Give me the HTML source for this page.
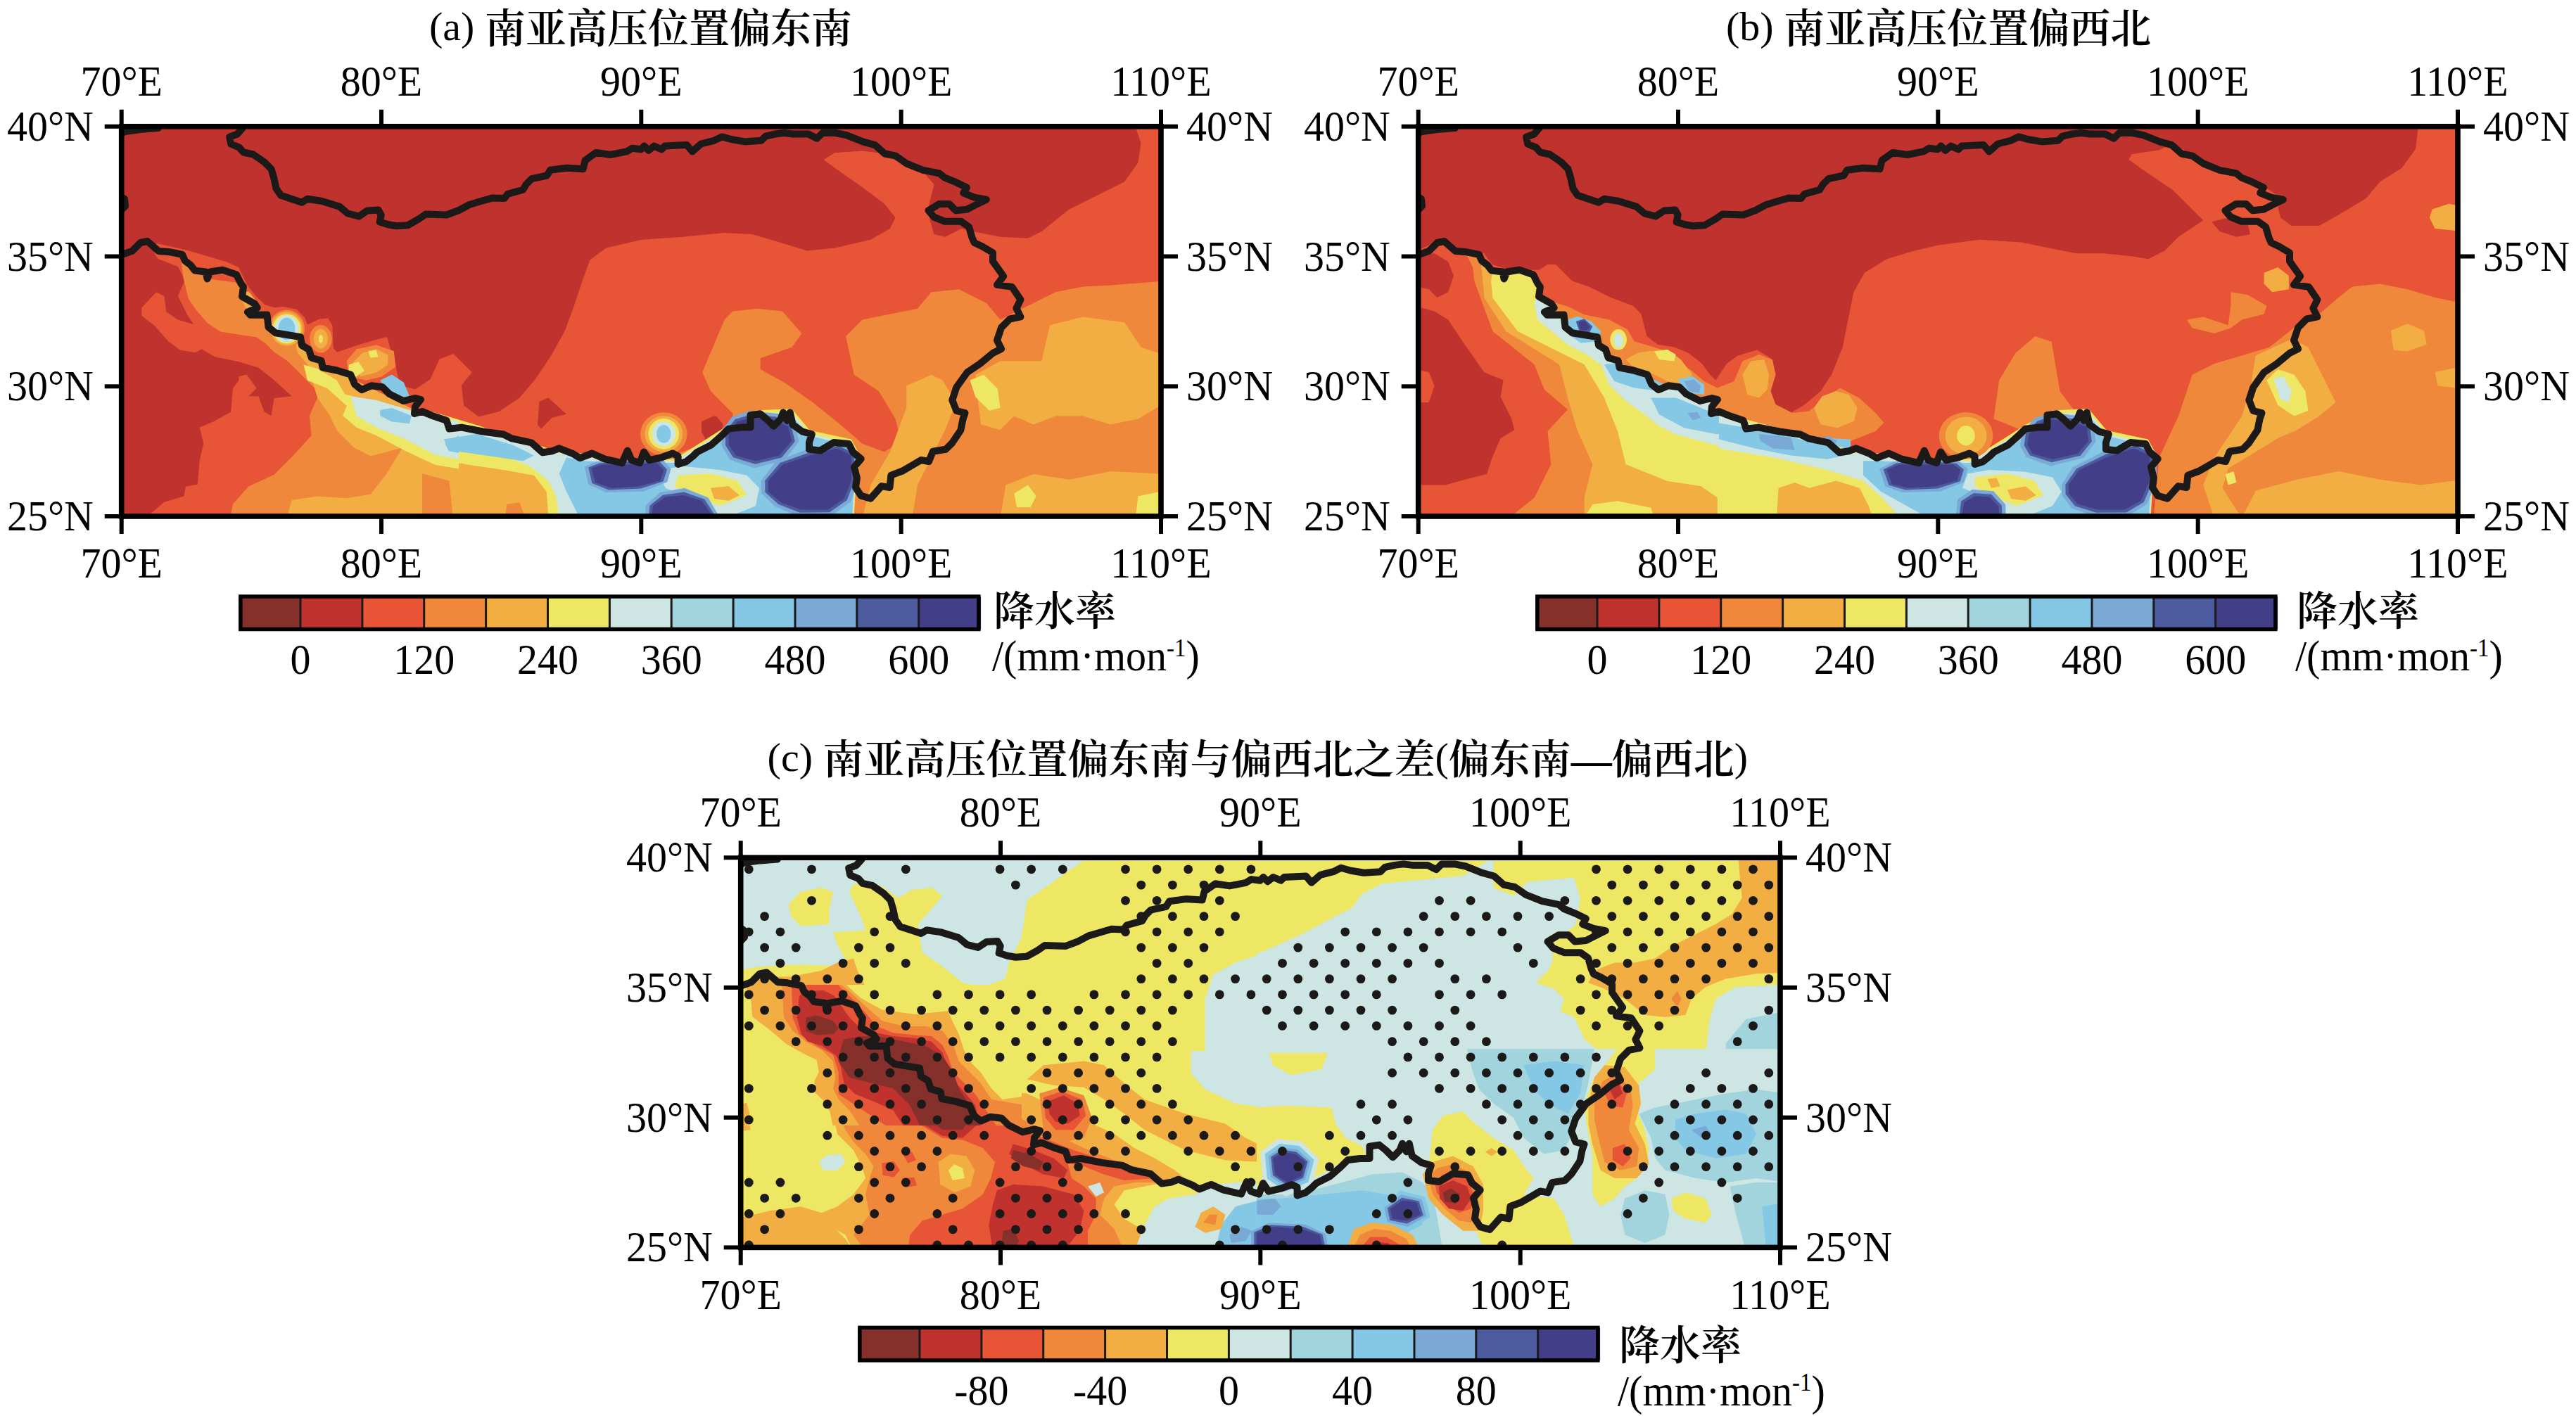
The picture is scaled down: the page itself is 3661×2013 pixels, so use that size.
<!DOCTYPE html>
<html><head><meta charset="utf-8"><style>
html,body{margin:0;padding:0;background:#fff;}
svg{display:block;}
text{font-family:'Liberation Serif','Noto Serif CJK SC',serif;font-size:58px;fill:#000;}
.cjk{font-weight:600;}
</style></head><body>
<svg width="3661" height="2013" viewBox="0 0 3661 2013">
<g transform="translate(0,0)">
<text x="610" y="60.5"><tspan dy="-4">(a) </tspan><tspan dy="4" class="cjk">南亚高压位置偏东南</tspan></text>
<clipPath id="clipa"><rect x="172.7" y="179.8" width="1477.3" height="554.2"/></clipPath>
<g clip-path="url(#clipa)">
<rect x="172.7" y="179.8" width="1477.3" height="554.2" fill="#c0322d"/>
<rect x="170" y="176" width="1484" height="562" fill="#e85436"/><polygon points="172.0,180.0 912.0,180.0 912.0,180.0 1613.7,180.0 1621.5,203.5 1617.6,231.0 1598.0,258.4 1558.8,278.0 1519.6,297.6 1480.4,329.0 1460.8,338.8 1421.6,336.8 1382.4,329.0 1366.7,325.0 1343.2,336.8 1327.5,332.9 1321.6,313.3 1319.7,293.7 1327.5,262.3 1304.0,234.9 1264.8,219.2 1225.6,214.5 1186.4,217.2 1170.7,227.0 1186.4,238.8 1225.6,266.2 1257.0,289.8 1272.6,309.4 1264.8,325.0 1237.4,340.7 1186.4,352.5 1147.2,356.4 1108.0,344.6 1068.8,332.9 1029.6,330.9 970.8,336.8 912.0,340.7 861.5,352.4 838.5,369.6 827.0,401.2 815.5,435.7 802.9,470.1 783.9,504.6 760.9,539.1 737.9,566.1 709.2,585.1 680.5,592.5 659.2,576.4 655.8,547.7 670.7,529.3 644.3,502.9 624.7,510.4 611.5,539.1 590.3,553.5 568.4,547.7 562.7,521.9 550.0,479.1 529.6,484.2 504.2,491.9 478.8,500.8 473.7,494.4 472.4,462.6 466.1,452.5 453.4,453.7 436.9,461.4 433.0,451.2 421.6,439.7 402.5,435.9 389.8,437.2 377.1,433.4 364.4,422.0 351.7,405.4 339.0,380.0 322.5,372.5 297.3,365.0 263.9,355.2 224.9,346.6 195.0,347.8 166.3,352.4 166.3,180.0" fill="#c0322d"/><polygon points="169.2,348.4 199.9,340.0 213.8,348.4 220.8,362.3 225.0,367.9 252.9,379.1 262.7,398.6 252.9,420.9 266.8,448.8 275.2,461.3 252.9,454.4 236.2,443.2 233.4,420.9 222.2,415.3 201.3,437.6 201.3,448.8 219.4,462.7 238.9,485.0 255.7,497.6 278.0,501.2 286.4,496.2 305.9,507.4 339.4,514.3 367.3,522.7 386.8,538.0 414.7,563.2 389.6,565.9 385.4,591.0 375.6,585.5 367.3,563.2 350.5,563.2 339.4,540.8 331.0,552.0 328.2,585.5 303.1,599.4 283.6,607.8 289.2,630.1 283.6,655.2 280.8,688.7 264.1,691.5 261.3,705.4 233.4,713.8 213.8,730.5 172.0,730.5" fill="#c0322d"/><polygon points="339.4,535.3 350.5,532.5 364.5,552.0 353.3,563.2 339.4,560.4" fill="#e85436"/><polygon points="255.7,356.7 259.0,361.8 276.9,384.6 294.7,396.3 341.9,402.5 365.6,437.6 381.5,465.2 418.0,479.2 447.0,512.7 488.6,532.5 543.8,560.1 607.1,591.9 652.1,600.0 652.1,730.5 328.2,730.5 331.0,716.6 353.3,691.5 389.6,674.7 417.5,646.8 442.6,618.9 439.8,591.0 453.5,560.1 447.0,551.7 434.2,538.9 421.7,526.1 408.8,513.5 389.9,500.7 377.0,488.1 364.2,479.2 338.8,475.6 313.1,471.4 294.2,458.8 279.1,441.0 267.7,424.5 260.7,395.8" fill="#ef883a"/><polygon points="1041.4,587.7 1010.0,556.3 998.2,528.9 1029.6,454.4 1041.4,442.6 1076.6,438.7 1111.9,442.6 1139.4,474.0 1125.6,493.6 1080.6,509.3 1080.6,525.0 1115.8,544.6 1155.0,572.0 1194.2,603.4 1225.6,630.8 1257.0,642.6 1280.5,626.9 1272.6,595.5 1249.1,556.3 1213.8,532.8 1202.1,477.9 1225.6,454.4 1264.8,446.6 1304.0,438.7 1323.6,415.2 1362.8,411.3 1402.0,430.9 1421.6,454.4 1460.8,434.8 1500.0,415.2 1539.2,407.4 1578.4,405.4 1656.8,399.5 1656.8,736.6 912.0,736.6 912.0,662.2 959.0,646.5 1029.6,619.0 1041.4,599.4" fill="#ef883a"/><polygon points="998.2,599.4 1017.8,591.6 1027.6,603.4 1021.8,623.0 1002.2,626.9" fill="#c0322d"/><polygon points="766.5,570.7 779.3,565.6 805.0,588.7 784.5,593.8 769.1,609.2 764.0,604.1" fill="#c0322d"/><polygon points="997.1,598.9 1015.1,591.2 1026.6,601.5 1020.2,624.6 1004.8,627.1 997.1,614.3" fill="#c0322d"/><polygon points="418.0,479.2 447.0,512.7 488.6,532.5 543.8,560.1 607.1,591.9 652.1,600.0 652.1,730.5 409.1,730.5 414.7,711.0 450.9,705.4 492.8,708.2 526.8,702.6 548.6,674.7 572.0,636.5 526.8,648.2 503.1,636.5 479.4,612.8 467.7,589.1 451.2,565.7 437.0,518.2 423.0,501.8" fill="#f2ae42"/><polygon points="339.4,418.1 353.3,413.9 367.3,432.1 364.5,446.0 350.5,440.4" fill="#f2ae42"/><polygon points="1386.3,532.8 1421.6,513.2 1480.4,513.2 1492.2,462.2 1539.2,450.5 1598.0,458.3 1621.5,493.6 1656.8,505.4 1656.8,572.0 1617.6,595.5 1578.4,603.4 1539.2,591.6 1500.0,591.6 1468.6,603.4 1441.2,591.6 1421.6,611.2 1394.2,603.4 1390.2,572.0" fill="#f2ae42"/><polygon points="1296.2,736.6 1304.0,689.6 1323.6,650.4 1343.2,611.2 1358.9,572.0 1339.3,540.6 1323.6,532.8 1288.3,548.5 1288.3,579.8 1264.8,642.6 1237.4,689.6 1225.6,736.6" fill="#f2ae42"/><polygon points="1421.6,736.6 1429.4,689.6 1468.6,673.9 1519.6,681.8 1578.4,670.0 1656.8,673.9 1656.8,736.6" fill="#f2ae42"/><polygon points="600.0,642.5 794.7,642.5 799.8,734.7 600.0,734.7" fill="#f2ae42"/><polygon points="600.0,673.2 638.4,683.5 643.6,734.7 600.0,734.7" fill="#ef883a"/><polygon points="720.4,716.8 738.4,714.2 746.0,734.7 717.9,734.7" fill="#ef883a"/><polygon points="431.4,518.5 450.9,524.1 478.8,540.8 490.0,560.4 534.6,571.5 576.5,582.7 618.3,599.4 652.1,607.8 652.1,666.4 618.3,660.8 576.5,641.3 534.6,618.9 506.7,607.8 487.2,591.0 492.8,577.1 464.9,552.0 437.0,540.8" fill="#eee764"/><polygon points="600.0,581.0 676.9,604.1 779.3,637.4 881.8,652.7 958.7,652.7 1035.6,604.1 1074.0,583.6 1125.2,581.0 1150.9,611.7 1209.8,624.6 1225.2,652.7 1217.5,673.2 1213.6,734.7 779.3,734.7 776.8,698.9 758.9,675.8 715.3,668.1 664.1,660.4 625.6,652.7 600.0,650.2" fill="#eee764"/><polygon points="1378.5,540.6 1398.1,532.8 1417.7,552.4 1421.6,579.8 1405.9,583.8 1386.3,564.2" fill="#eee764"/><polygon points="1441.2,701.4 1460.8,689.6 1472.6,705.3 1464.7,721.0 1445.1,721.0" fill="#eee764"/><polygon points="1617.6,705.3 1656.8,697.4 1656.8,736.6 1613.7,736.6" fill="#eee764"/><polygon points="498.4,563.2 534.6,568.7 590.4,585.5 652.1,599.4 652.1,652.4 618.3,646.8 576.5,624.5 534.6,607.8 506.7,591.0" fill="#cde6e4"/><polygon points="600.0,591.2 676.9,609.2 779.3,642.5 881.8,655.3 958.7,655.3 1035.6,609.2 1074.0,588.7 1125.2,586.1 1150.9,616.9 1209.8,629.7 1222.6,655.3 1216.2,673.2 1212.3,734.7 794.7,734.7 789.6,704.0 779.3,683.5 753.7,663.0 715.3,647.6 651.2,634.8 600.0,627.1" fill="#cde6e4"/><polygon points="540.2,582.7 556.9,579.9 584.8,591.0 582.0,602.2 556.9,599.4 540.2,591.0" fill="#84c8e6"/><polygon points="632.3,630.1 652.1,618.9 652.1,644.0 637.8,641.3" fill="#84c8e6"/><polygon points="540.2,540.8 556.9,532.5 573.7,543.6 582.0,563.2 568.1,565.9 548.6,552.0" fill="#84c8e6"/><polygon points="630.7,624.6 676.9,616.9 728.1,632.2 758.9,647.6 743.5,655.3 689.7,647.6 638.4,639.9" fill="#84c8e6"/><polygon points="805.0,650.2 830.6,655.3 881.8,657.9 958.7,657.9 984.3,647.6 1035.6,614.3 1061.2,593.8 1125.2,591.2 1150.9,619.4 1202.1,632.2 1220.0,652.7 1214.9,673.2 1211.1,734.7 822.9,734.7 805.0,698.9 794.7,673.2" fill="#84c8e6"/><polygon points="933.1,668.1 971.5,663.0 1022.8,668.1 1061.2,675.8 1079.1,693.7 1074.0,719.3 1035.6,734.7 997.1,734.7 971.5,704.0 945.9,693.7" fill="#cde6e4"/><polygon points="963.8,675.8 1009.9,673.2 1048.4,683.5 1061.2,704.0 1022.8,719.3 984.3,704.0 958.7,691.2" fill="#eee764"/><polygon points="1009.9,693.7 1035.6,691.2 1050.9,704.0 1035.6,711.7 1015.1,709.1" fill="#f2ae42"/><polygon points="830.8,663.5 846.8,656.4 896.3,650.3 942.5,653.8 953.5,666.6 948.3,685.2 914.7,698.4 860.9,700.0 836.0,688.3" fill="#7aa9d6"/><polygon points="1025.6,612.0 1040.5,592.4 1065.6,584.1 1105.6,588.1 1129.5,602.5 1135.5,627.7 1115.2,654.1 1072.3,665.4 1037.4,653.4 1025.5,634.0" fill="#7aa9d6"/><polygon points="1081.7,683.0 1103.9,654.7 1150.9,637.4 1195.6,629.3 1218.4,642.0 1220.0,683.0 1208.8,713.5 1182.2,733.0 1134.8,734.2 1101.4,720.0 1081.9,701.0" fill="#7aa9d6"/><polygon points="917.8,718.1 937.8,700.2 972.8,693.8 1006.5,707.4 1020.1,730.9 1019.1,749.6 916.1,749.3" fill="#7aa9d6"/><polygon points="836.3,664.6 852.0,658.6 895.4,655.9 937.3,656.0 947.9,667.4 942.8,684.2 910.7,694.4 865.4,696.6 841.5,687.0" fill="#4c5a9e"/><polygon points="1031.1,613.2 1044.8,596.0 1067.4,589.4 1102.3,592.6 1124.3,604.8 1129.8,627.4 1110.9,650.5 1073.2,659.8 1042.0,650.2 1031.0,633.0" fill="#4c5a9e"/><polygon points="1087.3,683.3 1108.6,657.9 1150.9,643.0 1192.1,633.7 1213.7,645.1 1214.4,683.3 1203.7,711.1 1179.0,728.3 1136.6,728.8 1106.1,716.8 1087.4,699.8" fill="#4c5a9e"/><polygon points="923.4,718.8 942.2,703.7 972.1,699.4 1001.3,709.8 1014.5,730.2 1014.1,747.0 921.2,746.9" fill="#4c5a9e"/><polygon points="840.8,665.5 856.2,660.4 894.6,660.4 933.1,657.9 943.3,668.1 938.2,683.5 907.5,691.2 869.0,693.7 846.0,686.0" fill="#423f88"/><polygon points="1035.6,614.3 1048.4,598.9 1068.9,593.8 1099.6,596.4 1120.1,606.6 1125.2,627.1 1107.3,647.6 1074.0,655.3 1045.8,647.6 1035.6,632.2" fill="#423f88"/><polygon points="1091.9,683.5 1112.4,660.4 1150.9,647.6 1189.3,637.4 1209.8,647.6 1209.8,683.5 1199.5,709.1 1176.5,724.5 1138.0,724.5 1109.9,714.2 1091.9,698.9" fill="#423f88"/><polygon points="928.0,719.3 945.9,706.5 971.5,704.0 997.1,711.7 1009.9,729.6 1009.9,745.0 925.4,745.0" fill="#423f88"/><ellipse cx="943.3" cy="616.9" rx="33.3" ry="30.7" fill="#ef883a"/><ellipse cx="943.3" cy="616.9" rx="26.9" ry="25.6" fill="#f2ae42"/><ellipse cx="943.3" cy="616.9" rx="21.8" ry="21.8" fill="#eee764"/><ellipse cx="943.3" cy="616.9" rx="16.7" ry="17.4" fill="#cde6e4"/><ellipse cx="943.3" cy="616.9" rx="10.2" ry="12.8" fill="#84c8e6"/><ellipse cx="407.5" cy="467.5" rx="25.5" ry="26.7" fill="#ef883a"/><ellipse cx="407.5" cy="467.5" rx="22.9" ry="24.2" fill="#f2ae42"/><ellipse cx="407.5" cy="467.5" rx="20.3" ry="21.0" fill="#eee764"/><ellipse cx="407.5" cy="467.5" rx="17.0" ry="19.0" fill="#cde6e4"/><ellipse cx="407.5" cy="467.5" rx="12.0" ry="16.0" fill="#84c8e6"/><ellipse cx="455.9" cy="481.7" rx="15.9" ry="19.7" fill="#ef883a"/><ellipse cx="455.9" cy="481.7" rx="10.0" ry="14.0" fill="#f2ae42"/><ellipse cx="455.9" cy="481.7" rx="3.0" ry="5.7" fill="#eee764"/><polygon points="492.8,512.9 506.7,496.2 534.6,490.6 559.7,499.0 562.5,521.3 543.0,535.3 520.7,540.8 495.6,535.3" fill="#ef883a"/><polygon points="501.1,515.7 515.1,501.8 534.6,496.2 551.4,504.6 551.4,518.5 534.6,529.7 512.3,535.3" fill="#f2ae42"/><polygon points="523.5,499.0 534.6,497.6 537.4,507.4 526.3,508.8" fill="#eee764"/><polygon points="495.6,518.5 509.5,514.3 517.9,526.9 506.7,535.3 495.6,532.5" fill="#eee764"/>
<g fill="none" stroke="#1c1a19" stroke-width="10" stroke-linejoin="round" stroke-linecap="round"><polyline points="168.0,362.0 176.9,360.8 187.8,356.9 199.7,345.0 209.5,343.0 225.4,356.9 239.2,357.9 259.0,361.8 262.9,370.7 270.8,376.7 276.8,384.6 292.6,386.5 294.6,396.4 298.5,386.5 316.3,383.6 336.1,390.5 342.0,402.4 345.9,407.9 344.0,421.7 361.7,431.6 365.7,437.6 351.9,443.5 355.8,447.8 379.5,447.5 381.5,465.2 391.4,473.2 427.0,479.1 429.0,490.9 438.9,496.9 442.8,508.7 456.6,512.7 458.6,522.6 478.4,526.5 498.2,532.5 504.1,546.3 514.0,554.2 527.8,548.3 543.6,550.3 553.5,560.1 573.3,570.0 590.0,566.0 598.0,568.0 590.0,578.0 589.0,588.0 600.0,585.0 616.8,591.8 634.6,597.7 638.5,609.6 656.3,607.6 686.0,613.5 715.6,617.5 727.5,623.4 755.2,629.3 771.0,643.2 784.8,641.2 794.7,637.3 814.5,645.2 824.4,651.1 841.4,644.5 858.8,652.3 884.0,658.1 891.8,640.6 897.6,654.2 909.3,658.1 915.1,642.6 922.9,654.2 940.3,650.3 955.9,644.5 963.6,648.4 963.6,660.0 975.3,656.2 985.0,648.4 990.8,642.6 1010.2,632.9 1025.7,619.3 1035.5,609.6 1052.9,607.6 1066.5,607.6 1066.5,590.2 1080.1,588.2 1089.8,596.0 1099.5,605.7 1109.2,596.0 1113.1,586.3 1118.9,597.9 1122.8,586.3 1126.7,603.8 1140.3,613.5 1153.8,617.3 1150.0,629.0 1150.0,638.7 1165.5,640.6 1184.9,629.0 1206.3,630.9 1212.1,642.6 1223.7,652.3 1214.0,663.9 1217.9,679.5 1216.0,693.0 1223.7,704.7 1237.3,708.6 1252.8,691.1 1264.5,693.0 1266.4,675.6 1282.0,669.8 1295.5,662.0 1309.0,654.0 1320.0,656.0 1325.9,641.7 1344.1,638.7 1353.3,629.6 1365.4,611.4 1368.4,596.2 1371.5,587.1 1359.3,584.0 1353.3,568.9 1359.3,550.6 1374.5,529.4 1392.7,517.2 1411.0,502.0 1423.1,496.0 1417.0,483.8 1423.1,465.6 1435.2,453.5 1450.4,450.4 1444.4,438.3 1450.4,426.1 1438.3,407.9 1417.0,404.9 1426.1,392.7 1411.0,371.5 1411.0,359.3 1395.8,350.2 1384.7,345.0 1381.6,338.0 1377.0,322.5 1366.1,314.8 1342.8,314.8 1327.3,308.5 1319.5,299.2 1335.0,289.9 1349.0,289.9 1358.3,299.2 1373.9,297.7 1389.4,289.9 1401.8,283.7 1384.7,280.6 1369.2,274.4 1373.9,266.6 1358.3,258.9 1342.8,252.6 1335.0,246.4 1311.7,241.8 1288.4,232.5 1272.9,221.6 1257.4,218.5 1243.4,206.1 1226.3,201.4 1203.0,192.1 1187.5,189.0 1168.9,189.0 1161.1,196.7 1148.7,190.5 1127.0,190.5 1114.5,189.0 1102.1,190.5 1088.1,193.6 1081.9,199.8 1058.6,201.4 1040.0,198.3 1025.8,194.4 1014.9,199.8 996.3,204.5 983.9,215.4 976.1,206.1 945.0,207.6 940.4,212.3 929.5,207.6 921.7,213.8 915.5,207.6 910.9,212.3 898.4,210.7 890.7,215.4 867.4,220.0 847.2,216.9 831.7,227.8 828.6,240.2 805.3,238.7 782.0,241.8 777.3,249.5 755.6,254.2 747.8,262.0 743.2,269.7 721.4,275.9 716.8,282.1 699.7,281.4 681.1,286.8 667.0,291.0 652.0,299.0 634.6,305.5 605.0,304.5 595.1,311.4 579.3,320.3 563.4,321.3 551.6,319.3 539.7,315.4 541.7,305.5 537.7,298.6 521.9,299.6 510.0,307.5 494.2,303.5 482.4,293.6 456.7,285.7 436.9,282.8 429.0,287.7 417.1,283.7 399.3,277.8 392.4,267.9 389.5,254.0 385.5,240.2 375.6,230.4 359.8,219.5 346.0,216.5 340.0,209.6 328.2,204.7 326.2,194.8 337.0,190.8 344.0,183.0 350.0,174.0"/><polyline points="168.0,192.0 178.0,187.0 200.0,184.0 225.0,182.0"/><polyline points="168.0,277.0 177.0,283.0 178.0,293.0 168.0,303.0"/></g>
</g>
<g stroke="#000" stroke-width="6"><line x1="172.7" y1="155.8" x2="172.7" y2="179.8"/><line x1="172.7" y1="734.0" x2="172.7" y2="759.0"/><line x1="542.0" y1="155.8" x2="542.0" y2="179.8"/><line x1="542.0" y1="734.0" x2="542.0" y2="759.0"/><line x1="911.3" y1="155.8" x2="911.3" y2="179.8"/><line x1="911.3" y1="734.0" x2="911.3" y2="759.0"/><line x1="1280.7" y1="155.8" x2="1280.7" y2="179.8"/><line x1="1280.7" y1="734.0" x2="1280.7" y2="759.0"/><line x1="1650.0" y1="155.8" x2="1650.0" y2="179.8"/><line x1="1650.0" y1="734.0" x2="1650.0" y2="759.0"/><line x1="148.7" y1="179.8" x2="172.7" y2="179.8"/><line x1="1650.0" y1="179.8" x2="1674.0" y2="179.8"/><line x1="148.7" y1="364.5" x2="172.7" y2="364.5"/><line x1="1650.0" y1="364.5" x2="1674.0" y2="364.5"/><line x1="148.7" y1="549.3" x2="172.7" y2="549.3"/><line x1="1650.0" y1="549.3" x2="1674.0" y2="549.3"/><line x1="148.7" y1="734.0" x2="172.7" y2="734.0"/><line x1="1650.0" y1="734.0" x2="1674.0" y2="734.0"/></g>
<rect x="172.7" y="179.8" width="1477.3" height="554.2" fill="none" stroke="#000" stroke-width="7.6"/>
<g><text transform="translate(172.7,135.6) scale(1,1.06)" text-anchor="middle">70°E</text><text transform="translate(172.7,821.3) scale(1,1.06)" text-anchor="middle">70°E</text><text transform="translate(542.0,135.6) scale(1,1.06)" text-anchor="middle">80°E</text><text transform="translate(542.0,821.3) scale(1,1.06)" text-anchor="middle">80°E</text><text transform="translate(911.3,135.6) scale(1,1.06)" text-anchor="middle">90°E</text><text transform="translate(911.3,821.3) scale(1,1.06)" text-anchor="middle">90°E</text><text transform="translate(1280.7,135.6) scale(1,1.06)" text-anchor="middle">100°E</text><text transform="translate(1280.7,821.3) scale(1,1.06)" text-anchor="middle">100°E</text><text transform="translate(1650.0,135.6) scale(1,1.06)" text-anchor="middle">110°E</text><text transform="translate(1650.0,821.3) scale(1,1.06)" text-anchor="middle">110°E</text><text transform="translate(133.0,199.8) scale(1,1.06)" text-anchor="end">40°N</text><text transform="translate(1686.0,199.8) scale(1,1.06)" text-anchor="start">40°N</text><text transform="translate(133.0,384.5) scale(1,1.06)" text-anchor="end">35°N</text><text transform="translate(1686.0,384.5) scale(1,1.06)" text-anchor="start">35°N</text><text transform="translate(133.0,569.3) scale(1,1.06)" text-anchor="end">30°N</text><text transform="translate(1686.0,569.3) scale(1,1.06)" text-anchor="start">30°N</text><text transform="translate(133.0,754.0) scale(1,1.06)" text-anchor="end">25°N</text><text transform="translate(1686.0,754.0) scale(1,1.06)" text-anchor="start">25°N</text></g>
<rect x="339.1" y="848.0" width="88.4" height="46.5" fill="#86302b"/>
<rect x="427.0" y="848.0" width="88.4" height="46.5" fill="#c0322d"/>
<rect x="514.9" y="848.0" width="88.4" height="46.5" fill="#e85436"/>
<rect x="602.7" y="848.0" width="88.4" height="46.5" fill="#ef883a"/>
<rect x="690.6" y="848.0" width="88.4" height="46.5" fill="#f2ae42"/>
<rect x="778.5" y="848.0" width="88.4" height="46.5" fill="#eee764"/>
<rect x="866.4" y="848.0" width="88.4" height="46.5" fill="#cde6e4"/>
<rect x="954.2" y="848.0" width="88.4" height="46.5" fill="#a1d4dd"/>
<rect x="1042.1" y="848.0" width="88.4" height="46.5" fill="#84c8e6"/>
<rect x="1130.0" y="848.0" width="88.4" height="46.5" fill="#7aa9d6"/>
<rect x="1217.8" y="848.0" width="88.4" height="46.5" fill="#4c5a9e"/>
<rect x="1305.7" y="848.0" width="88.4" height="46.5" fill="#423f88"/>
<line x1="427.0" y1="848.0" x2="427.0" y2="894.5" stroke="#1a1a1a" stroke-width="3"/>
<line x1="514.9" y1="848.0" x2="514.9" y2="894.5" stroke="#1a1a1a" stroke-width="3"/>
<line x1="602.7" y1="848.0" x2="602.7" y2="894.5" stroke="#1a1a1a" stroke-width="3"/>
<line x1="690.6" y1="848.0" x2="690.6" y2="894.5" stroke="#1a1a1a" stroke-width="3"/>
<line x1="778.5" y1="848.0" x2="778.5" y2="894.5" stroke="#1a1a1a" stroke-width="3"/>
<line x1="866.4" y1="848.0" x2="866.4" y2="894.5" stroke="#1a1a1a" stroke-width="3"/>
<line x1="954.2" y1="848.0" x2="954.2" y2="894.5" stroke="#1a1a1a" stroke-width="3"/>
<line x1="1042.1" y1="848.0" x2="1042.1" y2="894.5" stroke="#1a1a1a" stroke-width="3"/>
<line x1="1130.0" y1="848.0" x2="1130.0" y2="894.5" stroke="#1a1a1a" stroke-width="3"/>
<line x1="1217.8" y1="848.0" x2="1217.8" y2="894.5" stroke="#1a1a1a" stroke-width="3"/>
<line x1="1305.7" y1="848.0" x2="1305.7" y2="894.5" stroke="#1a1a1a" stroke-width="3"/>
<rect x="341.85" y="848.0" width="1049.0" height="46.5" fill="none" stroke="#000" stroke-width="5.5"/>
<text transform="translate(427.0,957.6) scale(1,1.06)" text-anchor="middle">0</text>
<text transform="translate(602.7,957.6) scale(1,1.06)" text-anchor="middle">120</text>
<text transform="translate(778.5,957.6) scale(1,1.06)" text-anchor="middle">240</text>
<text transform="translate(954.2,957.6) scale(1,1.06)" text-anchor="middle">360</text>
<text transform="translate(1130.0,957.6) scale(1,1.06)" text-anchor="middle">480</text>
<text transform="translate(1305.7,957.6) scale(1,1.06)" text-anchor="middle">600</text>
<text x="1412" y="889" class="cjk">降水率</text>
<text transform="translate(1410.0,953.2) scale(1,1.06)" text-anchor="start">/(mm·mon<tspan font-size="33" dy="-19">-1</tspan><tspan dy="19">)</tspan></text>
</g>
<g transform="translate(1843,0)">
<text x="610" y="60.5"><tspan dy="-4">(b) </tspan><tspan dy="4" class="cjk">南亚高压位置偏西北</tspan></text>
<clipPath id="clipb"><rect x="172.7" y="179.8" width="1477.3" height="554.2"/></clipPath>
<g clip-path="url(#clipb)">
<rect x="172.7" y="179.8" width="1477.3" height="554.2" fill="#c0322d"/>
<rect x="170" y="176" width="1484" height="562" fill="#e85436"/><polygon points="168.1,176.1 912.1,176.1 912.0,176.1 1594.1,176.1 1590.2,211.4 1570.6,238.8 1539.2,258.4 1519.6,281.9 1480.4,305.4 1453.0,321.1 1413.8,321.1 1398.1,309.4 1394.2,293.7 1405.9,285.1 1382.4,270.2 1343.2,246.6 1284.4,227.0 1245.2,204.3 1225.6,213.3 1186.4,219.2 1182.5,227.0 1209.9,246.6 1245.2,270.2 1272.6,297.6 1288.3,313.3 1276.6,321.1 1253.0,336.8 1233.4,356.4 1209.9,368.2 1186.4,364.2 1147.2,360.3 1108.0,360.3 1068.8,352.5 1029.6,344.6 970.8,340.7 912.0,348.6 877.6,356.4 838.4,368.2 807.0,387.8 791.4,415.2 783.5,454.4 775.7,493.6 760.0,532.8 744.3,556.3 720.8,575.9 693.4,591.6 677.7,587.7 665.9,556.3 673.8,532.8 673.8,509.3 654.2,497.5 626.7,505.4 611.0,517.1 595.4,540.6 587.5,532.8 575.8,517.1 556.2,501.4 536.6,493.6 513.0,489.7 497.4,477.9 489.5,446.6 477.8,434.8 446.4,423.0 415.0,407.4 391.5,399.5 368.0,376.0 356.2,376.0 344.5,383.8 301.4,383.8 277.8,376.0 266.1,360.3 230.8,356.4 211.2,344.6 187.7,348.6 168.1,358.4" fill="#c0322d"/><polygon points="1300.1,315.2 1323.6,309.4 1351.0,317.2 1355.0,332.9 1335.4,336.8 1311.8,329.0" fill="#c0322d"/><polygon points="168.1,364.2 195.5,360.3 215.1,372.1 223.0,391.7 215.1,415.2 199.4,423.0 187.7,411.3 168.1,407.4" fill="#c0322d"/><polygon points="168.1,434.8 195.5,442.6 215.1,454.4 238.6,489.7 266.1,528.9 293.5,540.6 289.6,564.2 305.3,595.5 309.2,611.2 289.6,623.0 277.8,650.4 270.0,673.9 238.6,681.8 211.2,689.6 191.6,689.6 168.1,689.6" fill="#c0322d"/><polygon points="168.1,525.0 187.7,528.9 195.5,548.5 187.7,572.0 168.1,572.0" fill="#e85436"/><polygon points="361.3,428.4 384.9,435.5 408.6,447.3 444.1,454.4 470.1,468.6 479.5,485.2 503.2,492.3 526.9,499.4 541.1,513.6 562.3,527.8 578.9,541.9 597.8,551.4 621.5,541.9 633.3,513.6 657.0,504.1 675.9,511.2 680.6,532.5 673.5,556.1 680.6,575.1 704.3,586.9 727.9,584.5 751.6,565.6 772.0,551.4 798.9,565.6 822.6,586.9 834.4,601.1 822.6,612.9 787.1,627.1 716.1,627.1 645.1,612.9 621.5,601.1 597.8,579.8 574.2,579.8 550.5,570.3 515.0,563.2 498.5,541.9 479.5,536.0 455.9,523.0 439.3,506.5 427.5,489.9 392.0,480.4 380.2,456.8 361.3,447.3" fill="#ef883a"/><polygon points="498.5,499.4 526.9,497.0 545.8,511.2 562.3,532.5 550.5,546.7 526.9,541.9 507.9,532.5 479.5,523.0 467.7,511.2 484.3,501.7" fill="#f2ae42"/><polygon points="633.3,532.5 645.1,513.6 664.1,511.2 671.2,532.5 668.8,553.8 657.0,565.6 640.4,560.9" fill="#f2ae42"/><polygon points="735.0,579.8 746.9,563.2 765.8,556.1 784.7,560.9 796.6,579.8 791.8,598.7 768.2,608.2 744.5,603.5" fill="#f2ae42"/><polygon points="507.9,499.4 526.9,497.0 538.7,504.1 536.3,513.6 515.0,511.2" fill="#eee764"/><ellipse cx="457.1" cy="482.8" rx="16.6" ry="17.7" fill="#ef883a"/><ellipse cx="457.1" cy="482.8" rx="11.8" ry="14.7" fill="#eee764"/><ellipse cx="457.1" cy="484.0" rx="6.6" ry="10.6" fill="#cde6e4"/><polygon points="239.2,357.9 259.0,361.8 262.9,370.7 270.8,376.7 276.8,384.6 292.6,386.5 294.6,396.4 298.5,386.5 316.3,383.6 336.1,390.5 342.0,402.4 345.9,407.9 344.0,421.7 361.7,431.6 365.7,437.6 351.9,443.5 355.8,447.8 379.5,447.5 381.5,465.2 391.4,473.2 427.0,479.1 429.0,490.9 438.9,496.9 442.8,508.7 456.6,512.7 458.6,522.6 478.4,526.5 498.2,532.5 504.1,546.3 514.0,554.2 527.8,548.3 543.6,550.3 553.5,560.1 573.3,570.0 590.0,566.0 598.0,568.0 590.0,578.0 589.0,588.0 600.0,585.0 616.8,591.8 634.6,597.7 638.5,609.6 656.3,607.6 686.0,613.5 715.6,617.5 727.5,623.4 755.2,629.3 771.0,643.2 784.8,641.2 794.7,637.3 814.5,645.2 824.4,651.1 841.4,644.5 858.8,652.3 884.0,658.1 891.8,640.6 897.6,654.2 909.3,658.1 915.1,642.6 922.9,654.2 940.3,650.3 955.9,644.5 963.6,648.4 963.6,660.0 975.3,656.2 985.0,648.4 990.8,642.6 1010.2,632.9 1012.0,740.0 731.0,740.0 302.1,735.9 337.6,707.5 361.3,660.2 356.5,612.9 384.9,582.2 351.8,553.8 337.6,518.3 278.5,471.0 252.4,400.0 250.0,380.0" fill="#ef883a"/><polygon points="262.9,370.7 270.8,376.7 276.8,384.6 292.6,386.5 294.6,396.4 298.5,386.5 316.3,383.6 336.1,390.5 342.0,402.4 345.9,407.9 344.0,421.7 361.7,431.6 365.7,437.6 351.9,443.5 355.8,447.8 379.5,447.5 381.5,465.2 391.4,473.2 427.0,479.1 429.0,490.9 438.9,496.9 442.8,508.7 456.6,512.7 458.6,522.6 478.4,526.5 498.2,532.5 504.1,546.3 514.0,554.2 527.8,548.3 543.6,550.3 553.5,560.1 573.3,570.0 590.0,566.0 598.0,568.0 590.0,578.0 589.0,588.0 600.0,585.0 616.8,591.8 634.6,597.7 638.5,609.6 656.3,607.6 686.0,613.5 715.6,617.5 727.5,623.4 755.2,629.3 771.0,643.2 784.8,641.2 794.7,637.3 814.5,645.2 824.4,651.1 841.4,644.5 858.8,652.3 884.0,658.1 891.8,640.6 897.6,654.2 909.3,658.1 915.1,642.6 922.9,654.2 940.3,650.3 955.9,644.5 963.6,648.4 963.6,660.0 975.3,656.2 985.0,648.4 990.8,642.6 1010.2,632.9 1012.0,740.0 731.0,740.0 408.6,735.9 408.6,707.5 420.4,660.2 399.1,612.9 384.9,565.6 373.1,518.3 297.4,471.0 266.6,423.7 264.3,400.0 262.0,375.0" fill="#f2ae42"/><polygon points="276.8,384.6 292.6,386.5 294.6,396.4 298.5,386.5 316.3,383.6 336.1,390.5 342.0,402.4 345.9,407.9 344.0,421.7 361.7,431.6 365.7,437.6 351.9,443.5 355.8,447.8 379.5,447.5 381.5,465.2 391.4,473.2 427.0,479.1 429.0,490.9 438.9,496.9 442.8,508.7 456.6,512.7 458.6,522.6 478.4,526.5 498.2,532.5 504.1,546.3 514.0,554.2 527.8,548.3 543.6,550.3 553.5,560.1 573.3,570.0 590.0,566.0 598.0,568.0 590.0,578.0 589.0,588.0 600.0,585.0 616.8,591.8 634.6,597.7 638.5,609.6 656.3,607.6 686.0,613.5 715.6,617.5 727.5,623.4 755.2,629.3 771.0,643.2 784.8,641.2 794.7,637.3 814.5,645.2 824.4,651.1 841.4,644.5 858.8,652.3 884.0,658.1 891.8,640.6 897.6,654.2 909.3,658.1 915.1,642.6 922.9,654.2 940.3,650.3 955.9,644.5 963.6,648.4 963.6,660.0 975.3,656.2 985.0,648.4 990.8,642.6 1010.2,632.9 1012.0,740.0 731.0,740.0 597.8,735.9 597.8,707.5 574.2,691.0 526.9,683.9 467.7,660.2 455.9,612.9 437.0,565.6 408.6,518.3 313.9,471.0 278.5,423.7 276.1,400.0 278.0,386.0" fill="#eee764"/><polygon points="408.6,735.9 420.4,717.0 455.9,712.3 503.2,721.7 507.9,735.9" fill="#eee764"/><polygon points="680.6,735.9 687.7,691.0 716.1,683.9 772.0,679.2 787.1,681.5 787.1,735.9" fill="#f2ae42"/><polygon points="345.9,407.9 344.0,421.7 361.7,431.6 365.7,437.6 351.9,443.5 355.8,447.8 379.5,447.5 381.5,465.2 391.4,473.2 427.0,479.1 429.0,490.9 438.9,496.9 442.8,508.7 456.6,512.7 458.6,522.6 478.4,526.5 498.2,532.5 504.1,546.3 514.0,554.2 527.8,548.3 543.6,550.3 553.5,560.1 573.3,570.0 590.0,566.0 598.0,568.0 590.0,578.0 589.0,588.0 600.0,585.0 616.8,591.8 634.6,597.7 638.5,609.6 656.3,607.6 686.0,613.5 715.6,617.5 727.5,623.4 727.5,650.0 772.0,662.6 739.8,665.0 692.5,660.2 645.1,650.8 609.7,636.6 574.2,627.1 538.7,617.6 515.0,605.8 491.4,586.9 467.7,570.3 444.1,546.7 432.2,518.3 408.6,501.7 384.9,489.9 342.3,454.4 337.6,430.8" fill="#cde6e4"/><polygon points="384.9,454.4 399.1,449.7 418.0,456.8 432.2,471.0 427.5,485.2 403.8,487.5 389.6,478.1" fill="#84c8e6"/><polygon points="396.7,456.8 408.6,453.2 420.4,463.9 415.7,473.3 401.5,471.0" fill="#4c5a9e"/><polygon points="400.3,458.0 408.6,455.6 416.9,465.1 412.1,469.8 402.7,468.6" fill="#423f88"/><polygon points="437.0,518.3 455.9,515.9 479.5,523.0 503.2,537.2 522.1,546.7 515.0,556.1 479.5,551.4 451.2,541.9" fill="#84c8e6"/><polygon points="541.1,539.6 562.3,534.8 578.9,546.7 578.9,560.9 555.3,558.5" fill="#84c8e6"/><polygon points="550.5,541.9 564.7,539.6 574.2,549.0 571.8,558.5 557.6,556.1" fill="#7aa9d6"/><polygon points="503.2,565.6 538.7,565.6 574.2,579.8 609.7,594.0 621.5,608.2 597.8,617.6 550.5,608.2 515.0,589.3" fill="#84c8e6"/><polygon points="555.3,586.9 569.4,585.7 574.2,594.0 562.3,597.5" fill="#7aa9d6"/><polygon points="621.5,612.9 668.8,617.6 716.1,620.0 787.1,624.7 787.1,655.5 716.1,650.8 668.8,646.0 633.3,631.8" fill="#84c8e6"/><polygon points="659.3,612.9 680.6,608.2 701.9,612.9 704.3,629.5 680.6,636.6 661.7,627.1" fill="#4c5a9e"/><polygon points="673.5,612.9 690.1,611.7 696.0,622.4 683.0,625.9" fill="#423f88"/><polygon points="739.8,624.7 756.3,620.0 768.2,627.1 758.7,636.6 744.5,634.2" fill="#7aa9d6"/><polygon points="998.2,540.6 1021.8,501.4 1049.2,477.9 1072.7,485.8 1080.6,532.8 1084.5,556.3 1108.0,587.7 1131.5,595.5 1147.2,611.2 1029.6,611.2 990.4,595.5" fill="#ef883a"/><polygon points="1264.8,454.4 1288.3,450.5 1323.6,462.2 1327.5,434.8 1327.5,415.2 1351.0,419.1 1378.5,434.8 1374.6,446.6 1343.2,454.4 1327.5,466.2 1304.0,474.0 1272.6,466.2" fill="#ef883a"/><polygon points="1374.6,387.8 1394.2,379.9 1409.8,391.7 1409.8,411.3 1386.3,415.2 1374.6,403.4" fill="#f2ae42"/><polygon points="1613.7,297.6 1637.2,289.8 1656.8,293.7 1656.8,329.0 1617.6,325.0 1609.8,309.4" fill="#f2ae42"/><polygon points="1272.6,532.8 1304.0,517.1 1343.2,505.4 1382.4,493.6 1402.0,477.9 1421.6,462.2 1453.0,446.6 1480.4,423.0 1500.0,407.4 1539.2,403.4 1578.4,411.3 1617.6,423.0 1656.8,430.9 1656.8,736.6 1217.8,736.6 1225.6,650.4 1253.0,591.6 1264.8,556.3" fill="#ef883a"/><polygon points="1362.8,505.4 1413.8,481.8 1437.3,493.6 1453.0,525.0 1468.6,556.3 1476.5,572.0 1453.0,591.6 1421.6,611.2 1394.2,623.0 1362.8,642.6 1323.6,666.1 1315.8,693.5 1327.5,713.1 1343.2,736.6 1304.0,736.6 1288.3,689.6 1304.0,650.4 1343.2,591.6 1355.0,552.4" fill="#f2ae42"/><polygon points="1554.9,470.1 1578.4,460.3 1601.9,470.1 1605.8,489.7 1578.4,499.5 1558.8,497.5" fill="#f2ae42"/><polygon points="1617.6,528.9 1656.8,521.0 1656.8,552.4 1621.5,548.5" fill="#f2ae42"/><polygon points="1343.2,736.6 1362.8,697.4 1421.6,681.8 1480.4,670.0 1539.2,681.8 1598.0,689.6 1656.8,681.8 1656.8,736.6" fill="#f2ae42"/><polygon points="1378.5,540.6 1394.2,525.0 1417.7,532.8 1433.4,556.3 1437.3,583.8 1417.7,591.6 1394.2,575.9" fill="#eee764"/><polygon points="1388.3,538.7 1402.0,534.8 1413.8,556.3 1409.8,572.0 1398.1,568.1" fill="#cde6e4"/><polygon points="1319.7,673.9 1331.4,670.0 1335.4,685.7 1323.6,689.6" fill="#eee764"/><polygon points="600.0,586.1 676.9,606.6 779.3,637.4 881.8,652.7 958.7,652.7 1035.6,604.1 1074.0,583.6 1125.2,581.0 1150.9,611.7 1209.8,624.6 1225.2,652.7 1217.5,673.2 1213.6,734.7 600.0,734.7" fill="#eee764"/><polygon points="684.6,693.7 707.6,686.0 728.1,693.7 766.5,683.5 799.8,693.7 812.7,719.3 817.8,734.7 682.0,734.7" fill="#f2ae42"/><polygon points="600.0,591.2 676.9,609.2 779.3,642.5 881.8,655.3 958.7,655.3 1035.6,609.2 1074.0,588.7 1125.2,586.1 1150.9,616.9 1209.8,629.7 1222.6,655.3 1216.2,673.2 1212.3,734.7 856.2,734.7 830.6,706.5 805.0,683.5 753.7,668.1 676.9,650.2 600.0,637.4" fill="#cde6e4"/><polygon points="600.0,601.5 676.9,614.3 753.7,634.8 779.3,647.6 753.7,652.7 702.5,647.6 651.2,637.4 600.0,624.6" fill="#84c8e6"/><polygon points="656.4,616.9 702.5,622.0 707.6,639.9 676.9,637.4 658.9,627.1" fill="#7aa9d6"/><polygon points="805.0,655.3 830.6,655.3 881.8,657.9 958.7,657.9 984.3,647.6 1035.6,614.3 1061.2,593.8 1125.2,591.2 1150.9,619.4 1202.1,632.2 1220.0,652.7 1214.9,673.2 1211.1,734.7 894.6,734.7 830.6,698.9 805.0,675.8" fill="#84c8e6"/><polygon points="953.6,673.2 984.3,668.1 1035.6,670.7 1074.0,678.4 1086.8,698.9 1074.0,719.3 1035.6,734.7 997.1,734.7 971.5,704.0 945.9,693.7" fill="#cde6e4"/><polygon points="963.8,678.4 1009.9,673.2 1048.4,683.5 1061.2,704.0 1022.8,719.3 984.3,704.0 963.8,691.2" fill="#eee764"/><polygon points="1009.9,696.3 1035.6,691.2 1050.9,704.0 1035.6,711.7 1015.1,709.1" fill="#f2ae42"/><polygon points="981.8,680.9 994.6,679.6 999.7,691.2 986.9,693.7" fill="#f2ae42"/><polygon points="828.1,666.7 846.8,656.4 896.3,650.3 942.7,656.8 953.5,666.6 948.3,685.2 914.7,698.4 860.9,700.0 836.1,691.3" fill="#7aa9d6"/><polygon points="1030.6,615.0 1048.4,594.6 1071.3,586.5 1105.5,590.5 1132.1,602.5 1135.5,627.7 1118.2,651.1 1071.3,662.6 1036.9,650.1 1028.0,634.0" fill="#7aa9d6"/><polygon points="1086.8,689.1 1103.0,664.0 1150.1,639.9 1195.4,629.1 1220.9,642.0 1222.6,683.0 1208.5,716.6 1181.8,733.3 1134.2,734.0 1101.5,722.7 1087.2,704.1" fill="#7aa9d6"/><polygon points="939.1,710.1 960.0,695.7 990.3,698.2 1007.2,717.3 1008.0,751.0 935.0,751.0" fill="#7aa9d6"/><polygon points="833.7,667.5 852.0,658.6 895.4,655.9 937.4,658.8 947.9,667.4 942.8,684.2 910.7,694.4 865.4,696.6 841.5,689.8" fill="#4c5a9e"/><polygon points="1036.2,616.0 1052.6,598.4 1072.8,591.9 1102.3,595.2 1126.9,604.8 1129.8,627.4 1113.6,647.8 1072.8,657.2 1041.8,647.3 1033.6,633.0" fill="#4c5a9e"/><polygon points="1092.4,688.8 1108.2,666.3 1150.5,645.6 1192.0,633.6 1216.2,645.1 1217.0,683.3 1203.6,713.9 1178.9,728.4 1136.3,728.8 1106.1,719.4 1092.6,702.6" fill="#4c5a9e"/><polygon points="944.2,712.4 962.1,701.0 987.0,702.8 1001.7,718.4 1003.4,747.7 939.6,747.7" fill="#4c5a9e"/><polygon points="838.3,668.1 856.2,660.4 894.6,660.4 933.1,660.4 943.3,668.1 938.2,683.5 907.5,691.2 869.0,693.7 846.0,688.6" fill="#423f88"/><polygon points="1040.7,616.9 1056.1,601.5 1074.0,596.4 1099.6,598.9 1122.7,606.6 1125.2,627.1 1109.9,645.0 1074.0,652.7 1045.8,645.0 1038.1,632.2" fill="#423f88"/><polygon points="1097.1,688.6 1112.4,668.1 1150.9,650.2 1189.3,637.4 1212.3,647.6 1212.3,683.5 1199.5,711.7 1176.5,724.5 1138.0,724.5 1109.9,716.8 1097.1,701.4" fill="#423f88"/><polygon points="948.4,714.2 963.8,705.3 984.3,706.5 997.1,719.3 999.7,745.0 943.3,745.0" fill="#423f88"/><ellipse cx="951.0" cy="619.4" rx="38.4" ry="33.3" fill="#ef883a"/><ellipse cx="951.0" cy="619.4" rx="29.5" ry="26.9" fill="#f2ae42"/><ellipse cx="951.0" cy="619.4" rx="12.8" ry="14.1" fill="#eee764"/>
<g fill="none" stroke="#1c1a19" stroke-width="10" stroke-linejoin="round" stroke-linecap="round"><polyline points="168.0,362.0 176.9,360.8 187.8,356.9 199.7,345.0 209.5,343.0 225.4,356.9 239.2,357.9 259.0,361.8 262.9,370.7 270.8,376.7 276.8,384.6 292.6,386.5 294.6,396.4 298.5,386.5 316.3,383.6 336.1,390.5 342.0,402.4 345.9,407.9 344.0,421.7 361.7,431.6 365.7,437.6 351.9,443.5 355.8,447.8 379.5,447.5 381.5,465.2 391.4,473.2 427.0,479.1 429.0,490.9 438.9,496.9 442.8,508.7 456.6,512.7 458.6,522.6 478.4,526.5 498.2,532.5 504.1,546.3 514.0,554.2 527.8,548.3 543.6,550.3 553.5,560.1 573.3,570.0 590.0,566.0 598.0,568.0 590.0,578.0 589.0,588.0 600.0,585.0 616.8,591.8 634.6,597.7 638.5,609.6 656.3,607.6 686.0,613.5 715.6,617.5 727.5,623.4 755.2,629.3 771.0,643.2 784.8,641.2 794.7,637.3 814.5,645.2 824.4,651.1 841.4,644.5 858.8,652.3 884.0,658.1 891.8,640.6 897.6,654.2 909.3,658.1 915.1,642.6 922.9,654.2 940.3,650.3 955.9,644.5 963.6,648.4 963.6,660.0 975.3,656.2 985.0,648.4 990.8,642.6 1010.2,632.9 1025.7,619.3 1035.5,609.6 1052.9,607.6 1066.5,607.6 1066.5,590.2 1080.1,588.2 1089.8,596.0 1099.5,605.7 1109.2,596.0 1113.1,586.3 1118.9,597.9 1122.8,586.3 1126.7,603.8 1140.3,613.5 1153.8,617.3 1150.0,629.0 1150.0,638.7 1165.5,640.6 1184.9,629.0 1206.3,630.9 1212.1,642.6 1223.7,652.3 1214.0,663.9 1217.9,679.5 1216.0,693.0 1223.7,704.7 1237.3,708.6 1252.8,691.1 1264.5,693.0 1266.4,675.6 1282.0,669.8 1295.5,662.0 1309.0,654.0 1320.0,656.0 1325.9,641.7 1344.1,638.7 1353.3,629.6 1365.4,611.4 1368.4,596.2 1371.5,587.1 1359.3,584.0 1353.3,568.9 1359.3,550.6 1374.5,529.4 1392.7,517.2 1411.0,502.0 1423.1,496.0 1417.0,483.8 1423.1,465.6 1435.2,453.5 1450.4,450.4 1444.4,438.3 1450.4,426.1 1438.3,407.9 1417.0,404.9 1426.1,392.7 1411.0,371.5 1411.0,359.3 1395.8,350.2 1384.7,345.0 1381.6,338.0 1377.0,322.5 1366.1,314.8 1342.8,314.8 1327.3,308.5 1319.5,299.2 1335.0,289.9 1349.0,289.9 1358.3,299.2 1373.9,297.7 1389.4,289.9 1401.8,283.7 1384.7,280.6 1369.2,274.4 1373.9,266.6 1358.3,258.9 1342.8,252.6 1335.0,246.4 1311.7,241.8 1288.4,232.5 1272.9,221.6 1257.4,218.5 1243.4,206.1 1226.3,201.4 1203.0,192.1 1187.5,189.0 1168.9,189.0 1161.1,196.7 1148.7,190.5 1127.0,190.5 1114.5,189.0 1102.1,190.5 1088.1,193.6 1081.9,199.8 1058.6,201.4 1040.0,198.3 1025.8,194.4 1014.9,199.8 996.3,204.5 983.9,215.4 976.1,206.1 945.0,207.6 940.4,212.3 929.5,207.6 921.7,213.8 915.5,207.6 910.9,212.3 898.4,210.7 890.7,215.4 867.4,220.0 847.2,216.9 831.7,227.8 828.6,240.2 805.3,238.7 782.0,241.8 777.3,249.5 755.6,254.2 747.8,262.0 743.2,269.7 721.4,275.9 716.8,282.1 699.7,281.4 681.1,286.8 667.0,291.0 652.0,299.0 634.6,305.5 605.0,304.5 595.1,311.4 579.3,320.3 563.4,321.3 551.6,319.3 539.7,315.4 541.7,305.5 537.7,298.6 521.9,299.6 510.0,307.5 494.2,303.5 482.4,293.6 456.7,285.7 436.9,282.8 429.0,287.7 417.1,283.7 399.3,277.8 392.4,267.9 389.5,254.0 385.5,240.2 375.6,230.4 359.8,219.5 346.0,216.5 340.0,209.6 328.2,204.7 326.2,194.8 337.0,190.8 344.0,183.0 350.0,174.0"/><polyline points="168.0,192.0 178.0,187.0 200.0,184.0 225.0,182.0"/><polyline points="168.0,277.0 177.0,283.0 178.0,293.0 168.0,303.0"/></g>
</g>
<g stroke="#000" stroke-width="6"><line x1="172.7" y1="155.8" x2="172.7" y2="179.8"/><line x1="172.7" y1="734.0" x2="172.7" y2="759.0"/><line x1="542.0" y1="155.8" x2="542.0" y2="179.8"/><line x1="542.0" y1="734.0" x2="542.0" y2="759.0"/><line x1="911.3" y1="155.8" x2="911.3" y2="179.8"/><line x1="911.3" y1="734.0" x2="911.3" y2="759.0"/><line x1="1280.7" y1="155.8" x2="1280.7" y2="179.8"/><line x1="1280.7" y1="734.0" x2="1280.7" y2="759.0"/><line x1="1650.0" y1="155.8" x2="1650.0" y2="179.8"/><line x1="1650.0" y1="734.0" x2="1650.0" y2="759.0"/><line x1="148.7" y1="179.8" x2="172.7" y2="179.8"/><line x1="1650.0" y1="179.8" x2="1674.0" y2="179.8"/><line x1="148.7" y1="364.5" x2="172.7" y2="364.5"/><line x1="1650.0" y1="364.5" x2="1674.0" y2="364.5"/><line x1="148.7" y1="549.3" x2="172.7" y2="549.3"/><line x1="1650.0" y1="549.3" x2="1674.0" y2="549.3"/><line x1="148.7" y1="734.0" x2="172.7" y2="734.0"/><line x1="1650.0" y1="734.0" x2="1674.0" y2="734.0"/></g>
<rect x="172.7" y="179.8" width="1477.3" height="554.2" fill="none" stroke="#000" stroke-width="7.6"/>
<g><text transform="translate(172.7,135.6) scale(1,1.06)" text-anchor="middle">70°E</text><text transform="translate(172.7,821.3) scale(1,1.06)" text-anchor="middle">70°E</text><text transform="translate(542.0,135.6) scale(1,1.06)" text-anchor="middle">80°E</text><text transform="translate(542.0,821.3) scale(1,1.06)" text-anchor="middle">80°E</text><text transform="translate(911.3,135.6) scale(1,1.06)" text-anchor="middle">90°E</text><text transform="translate(911.3,821.3) scale(1,1.06)" text-anchor="middle">90°E</text><text transform="translate(1280.7,135.6) scale(1,1.06)" text-anchor="middle">100°E</text><text transform="translate(1280.7,821.3) scale(1,1.06)" text-anchor="middle">100°E</text><text transform="translate(1650.0,135.6) scale(1,1.06)" text-anchor="middle">110°E</text><text transform="translate(1650.0,821.3) scale(1,1.06)" text-anchor="middle">110°E</text><text transform="translate(133.0,199.8) scale(1,1.06)" text-anchor="end">40°N</text><text transform="translate(1686.0,199.8) scale(1,1.06)" text-anchor="start">40°N</text><text transform="translate(133.0,384.5) scale(1,1.06)" text-anchor="end">35°N</text><text transform="translate(1686.0,384.5) scale(1,1.06)" text-anchor="start">35°N</text><text transform="translate(133.0,569.3) scale(1,1.06)" text-anchor="end">30°N</text><text transform="translate(1686.0,569.3) scale(1,1.06)" text-anchor="start">30°N</text><text transform="translate(133.0,754.0) scale(1,1.06)" text-anchor="end">25°N</text><text transform="translate(1686.0,754.0) scale(1,1.06)" text-anchor="start">25°N</text></g>
<rect x="339.1" y="848.0" width="88.4" height="46.5" fill="#86302b"/>
<rect x="427.0" y="848.0" width="88.4" height="46.5" fill="#c0322d"/>
<rect x="514.9" y="848.0" width="88.4" height="46.5" fill="#e85436"/>
<rect x="602.7" y="848.0" width="88.4" height="46.5" fill="#ef883a"/>
<rect x="690.6" y="848.0" width="88.4" height="46.5" fill="#f2ae42"/>
<rect x="778.5" y="848.0" width="88.4" height="46.5" fill="#eee764"/>
<rect x="866.4" y="848.0" width="88.4" height="46.5" fill="#cde6e4"/>
<rect x="954.2" y="848.0" width="88.4" height="46.5" fill="#a1d4dd"/>
<rect x="1042.1" y="848.0" width="88.4" height="46.5" fill="#84c8e6"/>
<rect x="1130.0" y="848.0" width="88.4" height="46.5" fill="#7aa9d6"/>
<rect x="1217.8" y="848.0" width="88.4" height="46.5" fill="#4c5a9e"/>
<rect x="1305.7" y="848.0" width="88.4" height="46.5" fill="#423f88"/>
<line x1="427.0" y1="848.0" x2="427.0" y2="894.5" stroke="#1a1a1a" stroke-width="3"/>
<line x1="514.9" y1="848.0" x2="514.9" y2="894.5" stroke="#1a1a1a" stroke-width="3"/>
<line x1="602.7" y1="848.0" x2="602.7" y2="894.5" stroke="#1a1a1a" stroke-width="3"/>
<line x1="690.6" y1="848.0" x2="690.6" y2="894.5" stroke="#1a1a1a" stroke-width="3"/>
<line x1="778.5" y1="848.0" x2="778.5" y2="894.5" stroke="#1a1a1a" stroke-width="3"/>
<line x1="866.4" y1="848.0" x2="866.4" y2="894.5" stroke="#1a1a1a" stroke-width="3"/>
<line x1="954.2" y1="848.0" x2="954.2" y2="894.5" stroke="#1a1a1a" stroke-width="3"/>
<line x1="1042.1" y1="848.0" x2="1042.1" y2="894.5" stroke="#1a1a1a" stroke-width="3"/>
<line x1="1130.0" y1="848.0" x2="1130.0" y2="894.5" stroke="#1a1a1a" stroke-width="3"/>
<line x1="1217.8" y1="848.0" x2="1217.8" y2="894.5" stroke="#1a1a1a" stroke-width="3"/>
<line x1="1305.7" y1="848.0" x2="1305.7" y2="894.5" stroke="#1a1a1a" stroke-width="3"/>
<rect x="341.85" y="848.0" width="1049.0" height="46.5" fill="none" stroke="#000" stroke-width="5.5"/>
<text transform="translate(427.0,957.6) scale(1,1.06)" text-anchor="middle">0</text>
<text transform="translate(602.7,957.6) scale(1,1.06)" text-anchor="middle">120</text>
<text transform="translate(778.5,957.6) scale(1,1.06)" text-anchor="middle">240</text>
<text transform="translate(954.2,957.6) scale(1,1.06)" text-anchor="middle">360</text>
<text transform="translate(1130.0,957.6) scale(1,1.06)" text-anchor="middle">480</text>
<text transform="translate(1305.7,957.6) scale(1,1.06)" text-anchor="middle">600</text>
<text x="1421" y="889" class="cjk">降水率</text>
<text transform="translate(1419.0,953.2) scale(1,1.06)" text-anchor="start">/(mm·mon<tspan font-size="33" dy="-19">-1</tspan><tspan dy="19">)</tspan></text>
</g>
<g transform="translate(880,1039.4)">
<text x="210.6" y="60.5"><tspan dy="-4">(c) </tspan><tspan dy="4" class="cjk">南亚高压位置偏东南与偏西北之差</tspan><tspan dy="-4">(</tspan><tspan dy="4" class="cjk">偏东南—偏西北</tspan><tspan dy="-4">)</tspan></text>
<clipPath id="clipc"><rect x="172.7" y="179.8" width="1477.3" height="554.2"/></clipPath>
<g clip-path="url(#clipc)">
<rect x="172.7" y="179.8" width="1477.3" height="554.2" fill="#c0322d"/>
<rect x="170" y="176" width="1484" height="562" fill="#eee764"/><polygon points="166.3,173.9 674.7,173.9 579.9,239.9 571.3,294.5 554.1,329.0 548.3,352.0 516.7,363.5 488.0,357.7 459.3,334.7 430.5,314.6 424.8,274.4 444.9,251.4 459.3,234.2 444.9,222.7 416.2,225.6 396.1,237.1 373.1,219.8 332.9,216.9 327.1,228.4 344.4,265.8 350.1,283.0 304.1,285.9 309.9,303.1 327.1,334.7 258.2,331.9 200.7,334.7 166.3,340.5" fill="#cde6e4"/><polygon points="240.9,245.7 258.2,228.4 286.9,222.7 304.1,228.4 298.4,254.3 298.4,274.4 258.2,277.3 243.8,262.9" fill="#eee764"/><polygon points="832.7,380.7 844.2,346.2 875.8,329.0 918.9,314.6 918.9,461.1 832.7,461.1" fill="#cde6e4"/><polygon points="281.2,454.7 502.4,454.7 516.7,472.0 534.0,494.9 545.5,512.2 579.9,515.1 608.7,529.4 660.4,552.4 703.5,572.5 732.2,592.6 760.9,607.0 789.6,624.2 804.0,635.7 789.6,644.3 760.9,644.3 717.8,652.9 703.5,673.1 717.8,693.2 746.5,710.4 760.9,739.1 332.9,739.1 321.4,716.1 295.5,701.8 281.2,687.4 309.9,675.9 332.9,658.7 350.1,635.7 344.4,618.5 332.9,595.5 309.9,572.5 304.1,543.8 301.3,515.1 286.9,486.3" fill="#f2ae42"/><polygon points="166.3,529.4 183.5,532.3 186.4,566.8 166.3,569.6" fill="#f2ae42"/><polygon points="166.3,693.2 215.1,681.7 258.2,675.9 286.9,684.5 301.3,701.8 321.4,721.9 332.9,739.1 166.3,739.1" fill="#f2ae42"/><polygon points="579.9,494.9 602.9,474.8 660.4,469.1 689.1,474.8 717.8,500.7 746.5,523.7 804.0,543.8 861.5,558.1 890.2,578.3 918.9,592.6 918.9,612.7 861.5,609.9 804.0,595.5 746.5,566.8 717.8,543.8 689.1,523.7 660.4,506.4 617.3,503.6" fill="#f2ae42"/><polygon points="812.6,454.7 918.9,454.7 918.9,535.2 875.8,529.4 832.7,509.3 812.6,486.3" fill="#cde6e4"/><polygon points="295.5,454.7 488.0,454.7 516.7,492.1 539.7,529.4 574.2,552.4 617.3,572.5 660.4,592.6 717.8,615.6 760.9,630.0 775.3,641.5 732.2,641.5 703.5,647.2 689.1,664.4 683.3,687.4 703.5,707.5 717.8,739.1 350.1,739.1 332.9,716.1 344.4,701.8 355.9,687.4 350.1,658.7 355.9,635.7 361.6,618.5 350.1,601.2 332.9,584.0 321.4,566.8 312.8,543.8 307.0,515.1" fill="#ef883a"/><polygon points="309.9,454.7 459.3,454.7 488.0,486.3 502.4,515.1 531.1,543.8 559.8,563.9 602.9,578.3 646.0,595.5 689.1,609.9 732.2,624.2 760.9,635.7 717.8,638.6 689.1,630.0 660.4,618.5 637.4,614.2 643.1,635.7 660.4,647.2 677.6,664.4 677.6,687.4 666.1,710.4 666.1,739.1 410.4,739.1 413.3,716.1 430.5,696.0 459.3,687.4 488.0,678.8 516.7,658.7 528.2,635.7 534.0,612.7 516.7,592.6 488.0,581.1 459.3,578.3 430.5,561.0 401.8,538.0 373.1,520.8 344.4,503.6 321.4,480.6" fill="#e85436"/><polygon points="373.1,614.2 390.3,611.3 398.9,624.2 390.3,634.3 374.5,631.4" fill="#e85436"/><polygon points="401.8,599.8 416.2,598.4 421.9,609.9 410.4,614.2" fill="#e85436"/><polygon points="401.8,635.7 419.1,634.3 423.4,645.8 407.6,648.6" fill="#e85436"/><polygon points="453.5,612.7 470.8,601.2 493.7,604.1 505.2,624.2 499.5,647.2 476.5,655.8 456.4,644.3" fill="#f2ae42"/><polygon points="467.9,624.2 476.5,615.6 488.0,621.3 490.9,635.7 473.6,638.6" fill="#eee764"/><polygon points="312.8,454.7 430.5,454.7 459.3,480.6 488.0,500.7 502.4,529.4 516.7,552.4 488.0,578.3 459.3,575.4 430.5,558.1 407.6,532.3 373.1,515.1 344.4,497.8 321.4,474.8" fill="#c0322d"/><polygon points="536.8,652.9 559.8,644.3 602.9,647.2 646.0,658.7 660.4,681.7 654.6,710.4 631.6,739.1 531.1,739.1 525.3,701.8 531.1,673.1" fill="#c0322d"/><polygon points="559.8,586.9 588.5,595.5 617.3,607.0 637.4,624.2 631.6,635.7 602.9,630.0 574.2,615.6 554.1,601.2" fill="#c0322d"/><polygon points="597.2,515.1 625.9,506.4 660.4,517.9 671.9,549.5 660.4,578.3 631.6,584.0 602.9,566.8" fill="#ef883a"/><polygon points="602.9,520.8 628.8,512.2 657.5,523.7 663.2,546.7 646.0,566.8 620.1,566.8 605.8,549.5" fill="#e85436"/><polygon points="608.7,526.5 631.6,517.9 651.7,529.4 654.6,546.7 637.4,558.1 620.1,555.3 611.5,543.8" fill="#c0322d"/><polygon points="315.6,454.7 390.3,454.7 416.2,474.8 444.9,492.1 473.6,515.1 502.4,543.8 488.0,566.8 459.3,566.8 430.5,543.8 401.8,520.8 358.7,500.7 332.9,480.6" fill="#86302b"/><polygon points="559.8,595.5 582.8,601.2 602.9,612.7 597.2,624.2 574.2,618.5 556.9,607.0" fill="#86302b"/><polygon points="545.5,710.4 559.8,707.5 568.4,724.8 559.8,739.1 542.6,739.1" fill="#86302b"/><polygon points="284.0,612.7 295.5,602.7 315.6,601.2 321.4,612.7 309.9,624.2 289.8,624.2" fill="#cde6e4"/><polygon points="666.1,647.2 683.3,641.5 689.1,655.8 677.6,661.6" fill="#cde6e4"/><polygon points="732.2,739.1 746.5,701.8 760.9,675.9 781.0,664.4 818.4,658.7 847.1,644.3 875.8,641.5 918.9,641.5 918.9,739.1" fill="#cde6e4"/><polygon points="847.1,739.1 855.7,701.8 875.8,675.9 918.9,664.4 918.9,739.1" fill="#84c8e6"/><polygon points="867.2,716.1 884.4,704.7 898.8,710.4 890.2,724.8 870.1,727.6" fill="#7aa9d6"/><polygon points="818.4,704.7 827.0,684.5 844.2,675.9 861.5,687.4 855.7,707.5 832.7,713.3" fill="#f2ae42"/><polygon points="829.9,698.9 838.5,687.4 850.0,687.4 847.1,701.8" fill="#ef883a"/><polygon points="166.3,363.5 189.2,354.8 215.1,349.1 243.8,349.1 286.9,340.5 309.9,329.0 332.9,323.2 338.6,340.5 350.1,363.5 358.7,380.7 166.3,380.7" fill="#f2ae42"/><clipPath id="cz1"><rect x="172" y="360.6" width="400" height="200"/></clipPath><g clip-path="url(#cz1)"><polygon points="168.9,357.5 575.7,357.5 575.7,562.5 168.9,562.5" fill="#eee764"/><polygon points="178.2,357.5 319.5,357.5 342.8,379.2 373.9,396.3 420.4,402.5 467.0,397.9 474.8,414.9 482.6,430.5 490.3,453.8 498.1,469.3 513.6,484.8 529.1,508.1 544.7,523.6 575.7,519.0 575.7,562.5 304.0,562.5 299.3,540.7 290.0,525.2 277.6,512.8 277.6,497.2 283.8,484.8 280.7,467.7 259.0,456.9 237.2,444.5 215.5,425.8 203.1,416.5 189.1,405.6 187.5,383.9" fill="#f2ae42"/><polygon points="231.0,357.5 311.8,357.5 327.3,369.9 350.6,391.7 373.9,411.8 404.9,419.6 436.0,419.6 459.3,425.8 474.8,446.0 482.6,469.3 498.1,484.8 513.6,500.4 529.1,523.6 575.7,531.4 575.7,562.5 342.8,562.5 327.3,539.2 311.8,523.6 304.0,508.1 307.1,492.6 304.0,469.3 288.5,453.8 265.2,441.3 246.5,425.8 234.1,407.2 232.6,383.9" fill="#ef883a"/><polygon points="245.0,360.6 259.0,357.5 308.6,357.5 319.5,369.9 335.0,383.9 350.6,401.0 366.1,419.6 389.4,428.9 420.4,432.0 443.7,433.6 459.3,446.0 467.0,461.5 474.8,484.8 490.3,500.4 505.9,515.9 521.4,539.2 536.9,562.5 381.6,562.5 358.3,546.9 335.0,531.4 311.8,515.9 311.8,484.8 304.0,460.0 280.7,447.6 255.9,430.5 246.5,407.2" fill="#e85436"/><polygon points="255.9,376.1 268.3,369.9 290.0,368.4 305.5,376.1 316.4,391.7 327.3,407.2 342.8,422.7 358.3,427.4 389.4,433.6 420.4,436.7 443.7,441.3 459.3,456.9 467.0,477.1 474.8,495.7 490.3,512.8 505.9,531.4 513.6,562.5 404.9,562.5 389.4,539.2 366.1,528.3 335.0,515.9 319.5,500.4 314.9,477.1 308.6,461.5 288.5,447.6 268.3,441.3 259.0,430.5 252.7,407.2" fill="#c0322d"/><polygon points="265.2,407.2 280.7,404.1 304.0,411.8 311.8,422.7 304.0,430.5 280.7,432.0 265.2,425.8" fill="#86302b"/><polygon points="319.5,438.2 342.8,433.6 373.9,435.1 404.9,441.3 436.0,447.6 459.3,461.5 474.8,484.8 482.6,508.1 498.1,531.4 513.6,562.5 428.2,562.5 412.7,531.4 389.4,508.1 358.3,500.4 327.3,492.6 311.8,469.3 314.9,450.7" fill="#86302b"/><polygon points="168.9,531.4 181.3,528.3 186.0,546.9 181.3,562.5 168.9,562.5" fill="#f2ae42"/></g><polygon points="912.0,314.6 969.5,288.8 1012.5,265.8 1041.3,237.1 1064.3,216.9 1084.4,211.2 1141.8,211.2 1199.3,205.5 1242.4,179.6 1242.4,222.7 1271.1,234.2 1291.2,214.1 1357.3,208.3 1365.9,237.1 1360.1,274.4 1328.5,300.3 1325.7,329.0 1319.9,340.5 1302.7,357.7 1328.5,366.3 1342.9,380.7 1337.2,397.9 1357.3,406.5 1371.6,438.1 1400.4,461.1 906.3,461.1 906.3,314.6" fill="#cde6e4"/><polygon points="906.3,173.9 1199.3,173.9 1193.5,202.6 1141.8,211.2 1084.4,216.9 1055.6,231.3 1041.3,251.4 1012.5,265.8 969.5,288.8 906.3,314.6" fill="#eee764"/><polygon points="1590.0,173.9 1658.9,173.9 1658.9,343.3 1615.8,344.8 1572.7,352.0 1544.0,363.5 1523.9,380.7 1515.3,403.7 1486.5,406.5 1457.8,403.7 1429.1,380.7 1400.4,366.3 1377.4,357.7 1386.0,340.5 1414.7,329.0 1443.5,329.0 1472.2,323.2 1500.9,303.1 1529.6,288.8 1558.4,274.4 1581.3,260.0 1595.7,237.1 1592.8,208.3" fill="#f2ae42"/><polygon points="1495.2,380.7 1503.8,369.2 1509.5,380.7 1503.8,392.2" fill="#ef883a"/><polygon points="1558.4,380.7 1587.1,363.5 1658.9,360.6 1658.9,461.1 1544.0,461.1 1549.7,409.4" fill="#cde6e4"/><polygon points="1572.7,443.9 1601.5,409.4 1658.9,397.9 1658.9,461.1 1572.7,461.1" fill="#a1d4dd"/><polygon points="906.3,451.9 1658.9,451.9 1658.9,739.1 906.3,739.1" fill="#cde6e4"/><polygon points="923.5,457.6 1006.8,457.6 998.2,480.6 955.1,489.2 929.2,474.8" fill="#eee764"/><polygon points="906.3,535.2 946.5,532.3 1012.5,535.2 1018.3,558.1 1032.7,578.3 1055.6,589.7 1061.4,601.2 1026.9,612.7 998.2,630.0 969.5,641.5 940.7,652.9 906.3,658.7" fill="#eee764"/><polygon points="1156.2,566.8 1170.5,546.7 1199.3,540.9 1213.6,555.3 1242.4,578.3 1271.1,595.5 1285.5,618.5 1299.8,635.7 1285.5,658.7 1328.5,664.4 1342.9,687.4 1357.3,733.4 1228.0,733.4 1213.6,701.8 1199.3,675.9 1170.5,658.7 1156.2,644.3 1150.4,615.6" fill="#eee764"/><polygon points="1371.6,529.4 1386.0,492.1 1400.4,474.8 1417.6,451.9 1472.2,451.9 1472.2,480.6 1449.2,500.7 1437.7,523.7 1446.3,538.0 1457.8,566.8 1463.6,595.5 1457.8,618.5 1446.3,635.7 1429.1,647.2 1414.7,664.4 1394.6,675.9 1383.1,658.7 1383.1,601.2 1374.5,558.1" fill="#eee764"/><polygon points="1495.2,664.4 1515.3,655.8 1544.0,664.4 1552.6,687.4 1544.0,698.9 1515.3,693.2 1498.0,681.7" fill="#eee764"/><polygon points="1205.0,451.9 1386.0,451.9 1377.4,500.7 1365.9,543.8 1354.4,572.5 1342.9,595.5 1314.2,601.2 1285.5,578.3 1271.1,549.5 1242.4,529.4 1222.3,509.3 1213.6,486.3" fill="#a1d4dd"/><polygon points="1285.5,474.8 1328.5,469.1 1371.6,474.8 1365.9,515.1 1348.7,543.8 1322.8,532.3 1299.8,509.3" fill="#84c8e6"/><polygon points="1449.2,543.8 1472.2,535.2 1515.3,526.5 1572.7,515.1 1615.8,509.3 1658.9,515.1 1658.9,641.5 1615.8,635.7 1572.7,641.5 1529.6,635.7 1486.5,624.2 1472.2,607.0 1466.4,578.3" fill="#a1d4dd"/><polygon points="1500.9,552.4 1529.6,543.8 1572.7,538.0 1601.5,543.8 1615.8,572.5 1601.5,601.2 1558.4,607.0 1515.3,595.5 1500.9,578.3" fill="#84c8e6"/><polygon points="1523.9,566.8 1544.0,561.0 1552.6,572.5 1538.3,578.3" fill="#7aa9d6"/><polygon points="1429.1,664.4 1457.8,652.9 1486.5,658.7 1492.3,687.4 1486.5,716.1 1457.8,727.6 1429.1,716.1 1423.3,687.4" fill="#a1d4dd"/><polygon points="1578.5,647.2 1615.8,641.5 1658.9,641.5 1658.9,739.1 1601.5,739.1 1587.1,687.4" fill="#a1d4dd"/><polygon points="1624.4,675.9 1658.9,670.2 1658.9,739.1 1630.2,739.1" fill="#84c8e6"/><polygon points="906.3,658.7 946.5,658.7 983.8,652.9 1026.9,641.5 1070.0,630.0 1113.1,627.1 1141.8,641.5 1156.2,658.7 1161.9,687.4 1170.5,739.1 906.3,739.1" fill="#a1d4dd"/><polygon points="906.3,664.4 940.7,664.4 998.2,658.7 1055.6,652.9 1090.1,658.7 1113.1,664.4 1136.1,675.9 1141.8,701.8 1113.1,716.1 1055.6,733.4 998.2,739.1 906.3,739.1" fill="#84c8e6"/><polygon points="906.3,667.3 932.1,664.4 940.7,675.9 929.2,687.4 906.3,687.4" fill="#7aa9d6"/><polygon points="911.3,598.0 935.7,579.9 969.8,583.3 994.7,607.9 984.9,645.7 946.9,661.4 914.6,639.9" fill="#cde6e4"/><polygon points="917.7,601.2 938.5,586.5 966.6,589.7 987.7,609.6 979.4,641.1 947.7,654.3 920.9,636.4" fill="#84c8e6"/><polygon points="922.8,603.8 940.8,591.8 964.0,594.8 982.2,611.0 975.0,637.4 948.5,648.6 925.9,633.5" fill="#7aa9d6"/><polygon points="926.2,605.4 942.2,595.2 962.4,598.2 978.5,611.9 972.1,635.0 948.9,644.9 929.1,631.7" fill="#4c5a9e"/><polygon points="929.2,607.0 943.6,598.4 960.8,601.2 975.2,612.7 969.5,632.8 949.3,641.5 932.1,630.0" fill="#423f88"/><polygon points="1081.6,676.8 1110.3,653.2 1145.2,662.2 1152.9,690.9 1121.7,710.1 1086.8,701.1" fill="#84c8e6"/><polygon points="1087.3,677.6 1111.4,658.9 1140.4,665.4 1147.3,689.5 1120.5,704.5 1091.6,697.9" fill="#7aa9d6"/><polygon points="1091.9,678.2 1112.3,663.4 1136.5,668.0 1142.8,688.4 1119.6,700.0 1095.4,695.4" fill="#4c5a9e"/><polygon points="1095.9,678.8 1113.1,667.3 1133.2,670.2 1138.9,687.4 1118.8,696.0 1098.7,693.2" fill="#423f88"/><polygon points="897.9,711.2 922.8,699.0 975.5,701.4 1003.8,714.5 1009.3,741.6 898.0,741.7" fill="#7aa9d6"/><polygon points="902.4,712.3 926.2,702.0 972.3,704.7 999.3,715.4 1004.9,740.3 902.4,740.3" fill="#4c5a9e"/><polygon points="906.3,713.3 929.2,704.7 969.5,707.5 995.3,716.1 1001.1,739.1 906.3,739.1" fill="#423f88"/><polygon points="1141.8,630.0 1156.2,612.7 1184.9,604.1 1213.6,618.5 1228.0,644.3 1228.0,681.7 1222.3,710.4 1199.3,710.4 1170.5,687.4 1150.4,664.4" fill="#f2ae42"/><polygon points="1150.4,635.7 1161.9,621.3 1184.9,615.6 1207.9,627.1 1219.4,647.2 1219.4,678.8 1210.8,698.9 1193.5,696.0 1173.4,678.8 1156.2,658.7" fill="#ef883a"/><polygon points="1159.1,641.5 1170.5,630.0 1187.8,627.1 1205.0,635.7 1213.6,655.8 1210.8,678.8 1193.5,684.5 1176.3,673.1 1161.9,655.8" fill="#e85436"/><polygon points="1164.8,647.2 1184.9,638.6 1205.0,647.2 1210.8,664.4 1199.3,681.7 1179.2,678.8 1166.2,664.4" fill="#c0322d"/><polygon points="1170.5,655.8 1182.0,650.1 1195.0,658.7 1189.2,671.6 1173.4,668.7" fill="#86302b"/><polygon points="1032.7,739.1 1044.1,707.5 1070.0,698.9 1098.7,701.8 1127.5,716.1 1138.9,739.1" fill="#f2ae42"/><polygon points="1041.3,739.1 1052.8,716.1 1072.9,707.5 1095.9,710.4 1118.8,721.9 1127.5,739.1" fill="#ef883a"/><polygon points="1049.9,739.1 1067.1,719.0 1090.1,719.0 1110.2,730.5 1116.0,739.1" fill="#e85436"/><polygon points="1061.4,739.1 1075.7,726.2 1093.0,727.6 1101.6,739.1" fill="#c0322d"/><polygon points="1377.4,529.4 1386.0,492.1 1400.4,474.8 1429.1,477.7 1449.2,503.6 1452.1,529.4 1443.5,558.1 1457.8,586.9 1463.6,615.6 1446.3,635.7 1414.7,635.7 1394.6,624.2 1383.1,586.9 1377.4,558.1" fill="#f2ae42"/><polygon points="1386.0,529.4 1397.5,497.8 1417.6,486.3 1437.7,509.3 1440.6,532.3 1434.8,566.8 1449.2,592.6 1446.3,618.5 1423.3,624.2 1400.4,612.7 1391.7,578.3 1386.0,552.4" fill="#ef883a"/><polygon points="1397.5,509.3 1417.6,494.9 1432.0,515.1 1426.2,535.2 1409.0,532.3" fill="#e85436"/><polygon points="1411.9,592.6 1429.1,586.9 1437.7,607.0 1426.2,618.5 1411.9,609.9" fill="#e85436"/><polygon points="1406.1,506.4 1420.5,500.7 1426.2,515.1 1414.7,523.7" fill="#c0322d"/><polygon points="1230.9,598.4 1239.5,592.6 1248.1,598.4 1239.5,604.1" fill="#f2ae42"/>
<g fill="none" stroke="#1c1a19" stroke-width="10" stroke-linejoin="round" stroke-linecap="round"><polyline points="168.0,362.0 176.9,360.8 187.8,356.9 199.7,345.0 209.5,343.0 225.4,356.9 239.2,357.9 259.0,361.8 262.9,370.7 270.8,376.7 276.8,384.6 292.6,386.5 294.6,396.4 298.5,386.5 316.3,383.6 336.1,390.5 342.0,402.4 345.9,407.9 344.0,421.7 361.7,431.6 365.7,437.6 351.9,443.5 355.8,447.8 379.5,447.5 381.5,465.2 391.4,473.2 427.0,479.1 429.0,490.9 438.9,496.9 442.8,508.7 456.6,512.7 458.6,522.6 478.4,526.5 498.2,532.5 504.1,546.3 514.0,554.2 527.8,548.3 543.6,550.3 553.5,560.1 573.3,570.0 590.0,566.0 598.0,568.0 590.0,578.0 589.0,588.0 600.0,585.0 616.8,591.8 634.6,597.7 638.5,609.6 656.3,607.6 686.0,613.5 715.6,617.5 727.5,623.4 755.2,629.3 771.0,643.2 784.8,641.2 794.7,637.3 814.5,645.2 824.4,651.1 841.4,644.5 858.8,652.3 884.0,658.1 891.8,640.6 897.6,654.2 909.3,658.1 915.1,642.6 922.9,654.2 940.3,650.3 955.9,644.5 963.6,648.4 963.6,660.0 975.3,656.2 985.0,648.4 990.8,642.6 1010.2,632.9 1025.7,619.3 1035.5,609.6 1052.9,607.6 1066.5,607.6 1066.5,590.2 1080.1,588.2 1089.8,596.0 1099.5,605.7 1109.2,596.0 1113.1,586.3 1118.9,597.9 1122.8,586.3 1126.7,603.8 1140.3,613.5 1153.8,617.3 1150.0,629.0 1150.0,638.7 1165.5,640.6 1184.9,629.0 1206.3,630.9 1212.1,642.6 1223.7,652.3 1214.0,663.9 1217.9,679.5 1216.0,693.0 1223.7,704.7 1237.3,708.6 1252.8,691.1 1264.5,693.0 1266.4,675.6 1282.0,669.8 1295.5,662.0 1309.0,654.0 1320.0,656.0 1325.9,641.7 1344.1,638.7 1353.3,629.6 1365.4,611.4 1368.4,596.2 1371.5,587.1 1359.3,584.0 1353.3,568.9 1359.3,550.6 1374.5,529.4 1392.7,517.2 1411.0,502.0 1423.1,496.0 1417.0,483.8 1423.1,465.6 1435.2,453.5 1450.4,450.4 1444.4,438.3 1450.4,426.1 1438.3,407.9 1417.0,404.9 1426.1,392.7 1411.0,371.5 1411.0,359.3 1395.8,350.2 1384.7,345.0 1381.6,338.0 1377.0,322.5 1366.1,314.8 1342.8,314.8 1327.3,308.5 1319.5,299.2 1335.0,289.9 1349.0,289.9 1358.3,299.2 1373.9,297.7 1389.4,289.9 1401.8,283.7 1384.7,280.6 1369.2,274.4 1373.9,266.6 1358.3,258.9 1342.8,252.6 1335.0,246.4 1311.7,241.8 1288.4,232.5 1272.9,221.6 1257.4,218.5 1243.4,206.1 1226.3,201.4 1203.0,192.1 1187.5,189.0 1168.9,189.0 1161.1,196.7 1148.7,190.5 1127.0,190.5 1114.5,189.0 1102.1,190.5 1088.1,193.6 1081.9,199.8 1058.6,201.4 1040.0,198.3 1025.8,194.4 1014.9,199.8 996.3,204.5 983.9,215.4 976.1,206.1 945.0,207.6 940.4,212.3 929.5,207.6 921.7,213.8 915.5,207.6 910.9,212.3 898.4,210.7 890.7,215.4 867.4,220.0 847.2,216.9 831.7,227.8 828.6,240.2 805.3,238.7 782.0,241.8 777.3,249.5 755.6,254.2 747.8,262.0 743.2,269.7 721.4,275.9 716.8,282.1 699.7,281.4 681.1,286.8 667.0,291.0 652.0,299.0 634.6,305.5 605.0,304.5 595.1,311.4 579.3,320.3 563.4,321.3 551.6,319.3 539.7,315.4 541.7,305.5 537.7,298.6 521.9,299.6 510.0,307.5 494.2,303.5 482.4,293.6 456.7,285.7 436.9,282.8 429.0,287.7 417.1,283.7 399.3,277.8 392.4,267.9 389.5,254.0 385.5,240.2 375.6,230.4 359.8,219.5 346.0,216.5 340.0,209.6 328.2,204.7 326.2,194.8 337.0,190.8 344.0,183.0 350.0,174.0"/><polyline points="168.0,192.0 178.0,187.0 200.0,184.0 225.0,182.0"/><polyline points="168.0,277.0 177.0,283.0 178.0,293.0 168.0,303.0"/></g>
<g fill="#1c1a19"><circle cx="184.3" cy="196.4" r="6.4"/><circle cx="273.5" cy="196.4" r="6.4"/><circle cx="407.3" cy="196.4" r="6.4"/><circle cx="541.1" cy="196.4" r="6.4"/><circle cx="585.7" cy="196.4" r="6.4"/><circle cx="630.3" cy="196.4" r="6.4"/><circle cx="719.5" cy="196.4" r="6.4"/><circle cx="764.1" cy="196.4" r="6.4"/><circle cx="808.7" cy="196.4" r="6.4"/><circle cx="853.3" cy="196.4" r="6.4"/><circle cx="897.9" cy="196.4" r="6.4"/><circle cx="1388.5" cy="196.4" r="6.4"/><circle cx="1433.1" cy="196.4" r="6.4"/><circle cx="1477.7" cy="196.4" r="6.4"/><circle cx="1522.3" cy="196.4" r="6.4"/><circle cx="1566.9" cy="196.4" r="6.4"/><circle cx="1611.5" cy="196.4" r="6.4"/><circle cx="563.4" cy="218.7" r="6.4"/><circle cx="741.8" cy="218.7" r="6.4"/><circle cx="786.4" cy="218.7" r="6.4"/><circle cx="831.0" cy="218.7" r="6.4"/><circle cx="1410.8" cy="218.7" r="6.4"/><circle cx="1455.4" cy="218.7" r="6.4"/><circle cx="1500.0" cy="218.7" r="6.4"/><circle cx="1544.6" cy="218.7" r="6.4"/><circle cx="1589.2" cy="218.7" r="6.4"/><circle cx="1633.8" cy="218.7" r="6.4"/><circle cx="273.5" cy="240.9" r="6.4"/><circle cx="719.5" cy="240.9" r="6.4"/><circle cx="764.1" cy="240.9" r="6.4"/><circle cx="853.3" cy="240.9" r="6.4"/><circle cx="1165.5" cy="240.9" r="6.4"/><circle cx="1210.1" cy="240.9" r="6.4"/><circle cx="1343.9" cy="240.9" r="6.4"/><circle cx="1388.5" cy="240.9" r="6.4"/><circle cx="1433.1" cy="240.9" r="6.4"/><circle cx="1477.7" cy="240.9" r="6.4"/><circle cx="1522.3" cy="240.9" r="6.4"/><circle cx="1566.9" cy="240.9" r="6.4"/><circle cx="1611.5" cy="240.9" r="6.4"/><circle cx="206.6" cy="263.2" r="6.4"/><circle cx="385.0" cy="263.2" r="6.4"/><circle cx="741.8" cy="263.2" r="6.4"/><circle cx="786.4" cy="263.2" r="6.4"/><circle cx="831.0" cy="263.2" r="6.4"/><circle cx="875.6" cy="263.2" r="6.4"/><circle cx="1143.2" cy="263.2" r="6.4"/><circle cx="1187.8" cy="263.2" r="6.4"/><circle cx="1232.4" cy="263.2" r="6.4"/><circle cx="1277.0" cy="263.2" r="6.4"/><circle cx="1321.6" cy="263.2" r="6.4"/><circle cx="1410.8" cy="263.2" r="6.4"/><circle cx="1455.4" cy="263.2" r="6.4"/><circle cx="1500.0" cy="263.2" r="6.4"/><circle cx="1544.6" cy="263.2" r="6.4"/><circle cx="1589.2" cy="263.2" r="6.4"/><circle cx="1633.8" cy="263.2" r="6.4"/><circle cx="184.3" cy="285.4" r="6.4"/><circle cx="228.9" cy="285.4" r="6.4"/><circle cx="362.7" cy="285.4" r="6.4"/><circle cx="719.5" cy="285.4" r="6.4"/><circle cx="764.1" cy="285.4" r="6.4"/><circle cx="808.7" cy="285.4" r="6.4"/><circle cx="853.3" cy="285.4" r="6.4"/><circle cx="1031.7" cy="285.4" r="6.4"/><circle cx="1076.3" cy="285.4" r="6.4"/><circle cx="1120.9" cy="285.4" r="6.4"/><circle cx="1165.5" cy="285.4" r="6.4"/><circle cx="1210.1" cy="285.4" r="6.4"/><circle cx="1254.7" cy="285.4" r="6.4"/><circle cx="1388.5" cy="285.4" r="6.4"/><circle cx="1433.1" cy="285.4" r="6.4"/><circle cx="1477.7" cy="285.4" r="6.4"/><circle cx="1522.3" cy="285.4" r="6.4"/><circle cx="1566.9" cy="285.4" r="6.4"/><circle cx="1611.5" cy="285.4" r="6.4"/><circle cx="206.6" cy="307.7" r="6.4"/><circle cx="251.2" cy="307.7" r="6.4"/><circle cx="340.4" cy="307.7" r="6.4"/><circle cx="385.0" cy="307.7" r="6.4"/><circle cx="741.8" cy="307.7" r="6.4"/><circle cx="786.4" cy="307.7" r="6.4"/><circle cx="831.0" cy="307.7" r="6.4"/><circle cx="964.8" cy="307.7" r="6.4"/><circle cx="1009.4" cy="307.7" r="6.4"/><circle cx="1054.0" cy="307.7" r="6.4"/><circle cx="1098.6" cy="307.7" r="6.4"/><circle cx="1143.2" cy="307.7" r="6.4"/><circle cx="1277.0" cy="307.7" r="6.4"/><circle cx="1410.8" cy="307.7" r="6.4"/><circle cx="1455.4" cy="307.7" r="6.4"/><circle cx="1500.0" cy="307.7" r="6.4"/><circle cx="1544.6" cy="307.7" r="6.4"/><circle cx="1589.2" cy="307.7" r="6.4"/><circle cx="1633.8" cy="307.7" r="6.4"/><circle cx="228.9" cy="330.0" r="6.4"/><circle cx="318.1" cy="330.0" r="6.4"/><circle cx="362.7" cy="330.0" r="6.4"/><circle cx="407.3" cy="330.0" r="6.4"/><circle cx="764.1" cy="330.0" r="6.4"/><circle cx="808.7" cy="330.0" r="6.4"/><circle cx="942.5" cy="330.0" r="6.4"/><circle cx="987.1" cy="330.0" r="6.4"/><circle cx="1031.7" cy="330.0" r="6.4"/><circle cx="1076.3" cy="330.0" r="6.4"/><circle cx="1120.9" cy="330.0" r="6.4"/><circle cx="1165.5" cy="330.0" r="6.4"/><circle cx="1299.3" cy="330.0" r="6.4"/><circle cx="1388.5" cy="330.0" r="6.4"/><circle cx="1433.1" cy="330.0" r="6.4"/><circle cx="1477.7" cy="330.0" r="6.4"/><circle cx="1522.3" cy="330.0" r="6.4"/><circle cx="1566.9" cy="330.0" r="6.4"/><circle cx="1611.5" cy="330.0" r="6.4"/><circle cx="206.6" cy="352.2" r="6.4"/><circle cx="251.2" cy="352.2" r="6.4"/><circle cx="295.8" cy="352.2" r="6.4"/><circle cx="340.4" cy="352.2" r="6.4"/><circle cx="741.8" cy="352.2" r="6.4"/><circle cx="786.4" cy="352.2" r="6.4"/><circle cx="831.0" cy="352.2" r="6.4"/><circle cx="875.6" cy="352.2" r="6.4"/><circle cx="920.2" cy="352.2" r="6.4"/><circle cx="964.8" cy="352.2" r="6.4"/><circle cx="1009.4" cy="352.2" r="6.4"/><circle cx="1054.0" cy="352.2" r="6.4"/><circle cx="1098.6" cy="352.2" r="6.4"/><circle cx="1187.8" cy="352.2" r="6.4"/><circle cx="1232.4" cy="352.2" r="6.4"/><circle cx="1366.2" cy="352.2" r="6.4"/><circle cx="1410.8" cy="352.2" r="6.4"/><circle cx="1455.4" cy="352.2" r="6.4"/><circle cx="1500.0" cy="352.2" r="6.4"/><circle cx="1544.6" cy="352.2" r="6.4"/><circle cx="1633.8" cy="352.2" r="6.4"/><circle cx="184.3" cy="374.5" r="6.4"/><circle cx="228.9" cy="374.5" r="6.4"/><circle cx="273.5" cy="374.5" r="6.4"/><circle cx="318.1" cy="374.5" r="6.4"/><circle cx="362.7" cy="374.5" r="6.4"/><circle cx="451.9" cy="374.5" r="6.4"/><circle cx="496.5" cy="374.5" r="6.4"/><circle cx="541.1" cy="374.5" r="6.4"/><circle cx="585.7" cy="374.5" r="6.4"/><circle cx="674.9" cy="374.5" r="6.4"/><circle cx="719.5" cy="374.5" r="6.4"/><circle cx="764.1" cy="374.5" r="6.4"/><circle cx="808.7" cy="374.5" r="6.4"/><circle cx="853.3" cy="374.5" r="6.4"/><circle cx="897.9" cy="374.5" r="6.4"/><circle cx="942.5" cy="374.5" r="6.4"/><circle cx="987.1" cy="374.5" r="6.4"/><circle cx="1031.7" cy="374.5" r="6.4"/><circle cx="1076.3" cy="374.5" r="6.4"/><circle cx="1165.5" cy="374.5" r="6.4"/><circle cx="1210.1" cy="374.5" r="6.4"/><circle cx="1254.7" cy="374.5" r="6.4"/><circle cx="1388.5" cy="374.5" r="6.4"/><circle cx="1433.1" cy="374.5" r="6.4"/><circle cx="1477.7" cy="374.5" r="6.4"/><circle cx="1522.3" cy="374.5" r="6.4"/><circle cx="206.6" cy="396.7" r="6.4"/><circle cx="251.2" cy="396.7" r="6.4"/><circle cx="295.8" cy="396.7" r="6.4"/><circle cx="385.0" cy="396.7" r="6.4"/><circle cx="429.6" cy="396.7" r="6.4"/><circle cx="474.2" cy="396.7" r="6.4"/><circle cx="518.8" cy="396.7" r="6.4"/><circle cx="563.4" cy="396.7" r="6.4"/><circle cx="608.0" cy="396.7" r="6.4"/><circle cx="652.6" cy="396.7" r="6.4"/><circle cx="697.2" cy="396.7" r="6.4"/><circle cx="741.8" cy="396.7" r="6.4"/><circle cx="786.4" cy="396.7" r="6.4"/><circle cx="920.2" cy="396.7" r="6.4"/><circle cx="964.8" cy="396.7" r="6.4"/><circle cx="1009.4" cy="396.7" r="6.4"/><circle cx="1054.0" cy="396.7" r="6.4"/><circle cx="1098.6" cy="396.7" r="6.4"/><circle cx="1187.8" cy="396.7" r="6.4"/><circle cx="1366.2" cy="396.7" r="6.4"/><circle cx="1410.8" cy="396.7" r="6.4"/><circle cx="1455.4" cy="396.7" r="6.4"/><circle cx="1500.0" cy="396.7" r="6.4"/><circle cx="1633.8" cy="396.7" r="6.4"/><circle cx="184.3" cy="419.0" r="6.4"/><circle cx="228.9" cy="419.0" r="6.4"/><circle cx="273.5" cy="419.0" r="6.4"/><circle cx="318.1" cy="419.0" r="6.4"/><circle cx="362.7" cy="419.0" r="6.4"/><circle cx="407.3" cy="419.0" r="6.4"/><circle cx="451.9" cy="419.0" r="6.4"/><circle cx="496.5" cy="419.0" r="6.4"/><circle cx="541.1" cy="419.0" r="6.4"/><circle cx="585.7" cy="419.0" r="6.4"/><circle cx="630.3" cy="419.0" r="6.4"/><circle cx="674.9" cy="419.0" r="6.4"/><circle cx="719.5" cy="419.0" r="6.4"/><circle cx="764.1" cy="419.0" r="6.4"/><circle cx="942.5" cy="419.0" r="6.4"/><circle cx="987.1" cy="419.0" r="6.4"/><circle cx="1031.7" cy="419.0" r="6.4"/><circle cx="1076.3" cy="419.0" r="6.4"/><circle cx="1120.9" cy="419.0" r="6.4"/><circle cx="1165.5" cy="419.0" r="6.4"/><circle cx="1210.1" cy="419.0" r="6.4"/><circle cx="1388.5" cy="419.0" r="6.4"/><circle cx="1433.1" cy="419.0" r="6.4"/><circle cx="1477.7" cy="419.0" r="6.4"/><circle cx="1611.5" cy="419.0" r="6.4"/><circle cx="251.2" cy="441.3" r="6.4"/><circle cx="295.8" cy="441.3" r="6.4"/><circle cx="340.4" cy="441.3" r="6.4"/><circle cx="385.0" cy="441.3" r="6.4"/><circle cx="429.6" cy="441.3" r="6.4"/><circle cx="474.2" cy="441.3" r="6.4"/><circle cx="518.8" cy="441.3" r="6.4"/><circle cx="563.4" cy="441.3" r="6.4"/><circle cx="608.0" cy="441.3" r="6.4"/><circle cx="652.6" cy="441.3" r="6.4"/><circle cx="697.2" cy="441.3" r="6.4"/><circle cx="741.8" cy="441.3" r="6.4"/><circle cx="786.4" cy="441.3" r="6.4"/><circle cx="1098.6" cy="441.3" r="6.4"/><circle cx="1143.2" cy="441.3" r="6.4"/><circle cx="1187.8" cy="441.3" r="6.4"/><circle cx="1232.4" cy="441.3" r="6.4"/><circle cx="1589.2" cy="441.3" r="6.4"/><circle cx="318.1" cy="463.5" r="6.4"/><circle cx="362.7" cy="463.5" r="6.4"/><circle cx="407.3" cy="463.5" r="6.4"/><circle cx="451.9" cy="463.5" r="6.4"/><circle cx="496.5" cy="463.5" r="6.4"/><circle cx="541.1" cy="463.5" r="6.4"/><circle cx="585.7" cy="463.5" r="6.4"/><circle cx="630.3" cy="463.5" r="6.4"/><circle cx="674.9" cy="463.5" r="6.4"/><circle cx="719.5" cy="463.5" r="6.4"/><circle cx="764.1" cy="463.5" r="6.4"/><circle cx="1120.9" cy="463.5" r="6.4"/><circle cx="1165.5" cy="463.5" r="6.4"/><circle cx="1210.1" cy="463.5" r="6.4"/><circle cx="1254.7" cy="463.5" r="6.4"/><circle cx="1299.3" cy="463.5" r="6.4"/><circle cx="1343.9" cy="463.5" r="6.4"/><circle cx="1388.5" cy="463.5" r="6.4"/><circle cx="295.8" cy="485.8" r="6.4"/><circle cx="340.4" cy="485.8" r="6.4"/><circle cx="385.0" cy="485.8" r="6.4"/><circle cx="474.2" cy="485.8" r="6.4"/><circle cx="608.0" cy="485.8" r="6.4"/><circle cx="652.6" cy="485.8" r="6.4"/><circle cx="697.2" cy="485.8" r="6.4"/><circle cx="741.8" cy="485.8" r="6.4"/><circle cx="1098.6" cy="485.8" r="6.4"/><circle cx="1143.2" cy="485.8" r="6.4"/><circle cx="1187.8" cy="485.8" r="6.4"/><circle cx="1232.4" cy="485.8" r="6.4"/><circle cx="1277.0" cy="485.8" r="6.4"/><circle cx="1321.6" cy="485.8" r="6.4"/><circle cx="1366.2" cy="485.8" r="6.4"/><circle cx="1410.8" cy="485.8" r="6.4"/><circle cx="1544.6" cy="485.8" r="6.4"/><circle cx="1633.8" cy="485.8" r="6.4"/><circle cx="184.3" cy="508.0" r="6.4"/><circle cx="273.5" cy="508.0" r="6.4"/><circle cx="318.1" cy="508.0" r="6.4"/><circle cx="362.7" cy="508.0" r="6.4"/><circle cx="407.3" cy="508.0" r="6.4"/><circle cx="496.5" cy="508.0" r="6.4"/><circle cx="585.7" cy="508.0" r="6.4"/><circle cx="630.3" cy="508.0" r="6.4"/><circle cx="674.9" cy="508.0" r="6.4"/><circle cx="719.5" cy="508.0" r="6.4"/><circle cx="764.1" cy="508.0" r="6.4"/><circle cx="1165.5" cy="508.0" r="6.4"/><circle cx="1210.1" cy="508.0" r="6.4"/><circle cx="1254.7" cy="508.0" r="6.4"/><circle cx="1299.3" cy="508.0" r="6.4"/><circle cx="1343.9" cy="508.0" r="6.4"/><circle cx="1388.5" cy="508.0" r="6.4"/><circle cx="1433.1" cy="508.0" r="6.4"/><circle cx="1522.3" cy="508.0" r="6.4"/><circle cx="1566.9" cy="508.0" r="6.4"/><circle cx="1611.5" cy="508.0" r="6.4"/><circle cx="295.8" cy="530.3" r="6.4"/><circle cx="340.4" cy="530.3" r="6.4"/><circle cx="385.0" cy="530.3" r="6.4"/><circle cx="429.6" cy="530.3" r="6.4"/><circle cx="518.8" cy="530.3" r="6.4"/><circle cx="608.0" cy="530.3" r="6.4"/><circle cx="652.6" cy="530.3" r="6.4"/><circle cx="697.2" cy="530.3" r="6.4"/><circle cx="741.8" cy="530.3" r="6.4"/><circle cx="786.4" cy="530.3" r="6.4"/><circle cx="1054.0" cy="530.3" r="6.4"/><circle cx="1098.6" cy="530.3" r="6.4"/><circle cx="1232.4" cy="530.3" r="6.4"/><circle cx="1277.0" cy="530.3" r="6.4"/><circle cx="1321.6" cy="530.3" r="6.4"/><circle cx="1366.2" cy="530.3" r="6.4"/><circle cx="1410.8" cy="530.3" r="6.4"/><circle cx="1500.0" cy="530.3" r="6.4"/><circle cx="1544.6" cy="530.3" r="6.4"/><circle cx="1589.2" cy="530.3" r="6.4"/><circle cx="1633.8" cy="530.3" r="6.4"/><circle cx="184.3" cy="552.6" r="6.4"/><circle cx="318.1" cy="552.6" r="6.4"/><circle cx="362.7" cy="552.6" r="6.4"/><circle cx="407.3" cy="552.6" r="6.4"/><circle cx="451.9" cy="552.6" r="6.4"/><circle cx="496.5" cy="552.6" r="6.4"/><circle cx="585.7" cy="552.6" r="6.4"/><circle cx="630.3" cy="552.6" r="6.4"/><circle cx="674.9" cy="552.6" r="6.4"/><circle cx="719.5" cy="552.6" r="6.4"/><circle cx="764.1" cy="552.6" r="6.4"/><circle cx="808.7" cy="552.6" r="6.4"/><circle cx="1076.3" cy="552.6" r="6.4"/><circle cx="1120.9" cy="552.6" r="6.4"/><circle cx="1254.7" cy="552.6" r="6.4"/><circle cx="1299.3" cy="552.6" r="6.4"/><circle cx="1343.9" cy="552.6" r="6.4"/><circle cx="1477.7" cy="552.6" r="6.4"/><circle cx="1522.3" cy="552.6" r="6.4"/><circle cx="1566.9" cy="552.6" r="6.4"/><circle cx="1611.5" cy="552.6" r="6.4"/><circle cx="295.8" cy="574.8" r="6.4"/><circle cx="340.4" cy="574.8" r="6.4"/><circle cx="385.0" cy="574.8" r="6.4"/><circle cx="429.6" cy="574.8" r="6.4"/><circle cx="474.2" cy="574.8" r="6.4"/><circle cx="518.8" cy="574.8" r="6.4"/><circle cx="608.0" cy="574.8" r="6.4"/><circle cx="652.6" cy="574.8" r="6.4"/><circle cx="697.2" cy="574.8" r="6.4"/><circle cx="741.8" cy="574.8" r="6.4"/><circle cx="786.4" cy="574.8" r="6.4"/><circle cx="831.0" cy="574.8" r="6.4"/><circle cx="875.6" cy="574.8" r="6.4"/><circle cx="1009.4" cy="574.8" r="6.4"/><circle cx="1054.0" cy="574.8" r="6.4"/><circle cx="1098.6" cy="574.8" r="6.4"/><circle cx="1277.0" cy="574.8" r="6.4"/><circle cx="1321.6" cy="574.8" r="6.4"/><circle cx="1500.0" cy="574.8" r="6.4"/><circle cx="1544.6" cy="574.8" r="6.4"/><circle cx="1589.2" cy="574.8" r="6.4"/><circle cx="1633.8" cy="574.8" r="6.4"/><circle cx="362.7" cy="597.1" r="6.4"/><circle cx="407.3" cy="597.1" r="6.4"/><circle cx="451.9" cy="597.1" r="6.4"/><circle cx="585.7" cy="597.1" r="6.4"/><circle cx="674.9" cy="597.1" r="6.4"/><circle cx="719.5" cy="597.1" r="6.4"/><circle cx="808.7" cy="597.1" r="6.4"/><circle cx="853.3" cy="597.1" r="6.4"/><circle cx="897.9" cy="597.1" r="6.4"/><circle cx="942.5" cy="597.1" r="6.4"/><circle cx="1031.7" cy="597.1" r="6.4"/><circle cx="1165.5" cy="597.1" r="6.4"/><circle cx="1210.1" cy="597.1" r="6.4"/><circle cx="1254.7" cy="597.1" r="6.4"/><circle cx="1299.3" cy="597.1" r="6.4"/><circle cx="1343.9" cy="597.1" r="6.4"/><circle cx="1433.1" cy="597.1" r="6.4"/><circle cx="1477.7" cy="597.1" r="6.4"/><circle cx="1522.3" cy="597.1" r="6.4"/><circle cx="1566.9" cy="597.1" r="6.4"/><circle cx="1611.5" cy="597.1" r="6.4"/><circle cx="340.4" cy="619.3" r="6.4"/><circle cx="385.0" cy="619.3" r="6.4"/><circle cx="429.6" cy="619.3" r="6.4"/><circle cx="563.4" cy="619.3" r="6.4"/><circle cx="608.0" cy="619.3" r="6.4"/><circle cx="652.6" cy="619.3" r="6.4"/><circle cx="875.6" cy="619.3" r="6.4"/><circle cx="964.8" cy="619.3" r="6.4"/><circle cx="1009.4" cy="619.3" r="6.4"/><circle cx="1187.8" cy="619.3" r="6.4"/><circle cx="1410.8" cy="619.3" r="6.4"/><circle cx="1455.4" cy="619.3" r="6.4"/><circle cx="1500.0" cy="619.3" r="6.4"/><circle cx="1544.6" cy="619.3" r="6.4"/><circle cx="1589.2" cy="619.3" r="6.4"/><circle cx="1633.8" cy="619.3" r="6.4"/><circle cx="184.3" cy="641.6" r="6.4"/><circle cx="228.9" cy="641.6" r="6.4"/><circle cx="362.7" cy="641.6" r="6.4"/><circle cx="407.3" cy="641.6" r="6.4"/><circle cx="541.1" cy="641.6" r="6.4"/><circle cx="630.3" cy="641.6" r="6.4"/><circle cx="897.9" cy="641.6" r="6.4"/><circle cx="1120.9" cy="641.6" r="6.4"/><circle cx="1477.7" cy="641.6" r="6.4"/><circle cx="1566.9" cy="641.6" r="6.4"/><circle cx="206.6" cy="663.9" r="6.4"/><circle cx="251.2" cy="663.9" r="6.4"/><circle cx="340.4" cy="663.9" r="6.4"/><circle cx="385.0" cy="663.9" r="6.4"/><circle cx="474.2" cy="663.9" r="6.4"/><circle cx="563.4" cy="663.9" r="6.4"/><circle cx="608.0" cy="663.9" r="6.4"/><circle cx="652.6" cy="663.9" r="6.4"/><circle cx="1098.6" cy="663.9" r="6.4"/><circle cx="1187.8" cy="663.9" r="6.4"/><circle cx="1455.4" cy="663.9" r="6.4"/><circle cx="1589.2" cy="663.9" r="6.4"/><circle cx="184.3" cy="686.1" r="6.4"/><circle cx="228.9" cy="686.1" r="6.4"/><circle cx="362.7" cy="686.1" r="6.4"/><circle cx="451.9" cy="686.1" r="6.4"/><circle cx="541.1" cy="686.1" r="6.4"/><circle cx="585.7" cy="686.1" r="6.4"/><circle cx="630.3" cy="686.1" r="6.4"/><circle cx="674.9" cy="686.1" r="6.4"/><circle cx="719.5" cy="686.1" r="6.4"/><circle cx="1076.3" cy="686.1" r="6.4"/><circle cx="1120.9" cy="686.1" r="6.4"/><circle cx="1433.1" cy="686.1" r="6.4"/><circle cx="206.6" cy="708.4" r="6.4"/><circle cx="340.4" cy="708.4" r="6.4"/><circle cx="474.2" cy="708.4" r="6.4"/><circle cx="563.4" cy="708.4" r="6.4"/><circle cx="608.0" cy="708.4" r="6.4"/><circle cx="652.6" cy="708.4" r="6.4"/><circle cx="741.8" cy="708.4" r="6.4"/><circle cx="875.6" cy="708.4" r="6.4"/><circle cx="920.2" cy="708.4" r="6.4"/><circle cx="964.8" cy="708.4" r="6.4"/><circle cx="1009.4" cy="708.4" r="6.4"/><circle cx="184.3" cy="730.6" r="6.4"/><circle cx="451.9" cy="730.6" r="6.4"/><circle cx="496.5" cy="730.6" r="6.4"/><circle cx="541.1" cy="730.6" r="6.4"/><circle cx="585.7" cy="730.6" r="6.4"/><circle cx="630.3" cy="730.6" r="6.4"/><circle cx="853.3" cy="730.6" r="6.4"/><circle cx="942.5" cy="730.6" r="6.4"/><circle cx="1076.3" cy="730.6" r="6.4"/><circle cx="1254.7" cy="730.6" r="6.4"/></g>
</g>
<g stroke="#000" stroke-width="6"><line x1="172.7" y1="155.8" x2="172.7" y2="179.8"/><line x1="172.7" y1="734.0" x2="172.7" y2="759.0"/><line x1="542.0" y1="155.8" x2="542.0" y2="179.8"/><line x1="542.0" y1="734.0" x2="542.0" y2="759.0"/><line x1="911.3" y1="155.8" x2="911.3" y2="179.8"/><line x1="911.3" y1="734.0" x2="911.3" y2="759.0"/><line x1="1280.7" y1="155.8" x2="1280.7" y2="179.8"/><line x1="1280.7" y1="734.0" x2="1280.7" y2="759.0"/><line x1="1650.0" y1="155.8" x2="1650.0" y2="179.8"/><line x1="1650.0" y1="734.0" x2="1650.0" y2="759.0"/><line x1="148.7" y1="179.8" x2="172.7" y2="179.8"/><line x1="1650.0" y1="179.8" x2="1674.0" y2="179.8"/><line x1="148.7" y1="364.5" x2="172.7" y2="364.5"/><line x1="1650.0" y1="364.5" x2="1674.0" y2="364.5"/><line x1="148.7" y1="549.3" x2="172.7" y2="549.3"/><line x1="1650.0" y1="549.3" x2="1674.0" y2="549.3"/><line x1="148.7" y1="734.0" x2="172.7" y2="734.0"/><line x1="1650.0" y1="734.0" x2="1674.0" y2="734.0"/></g>
<rect x="172.7" y="179.8" width="1477.3" height="554.2" fill="none" stroke="#000" stroke-width="7.6"/>
<g><text transform="translate(172.7,135.6) scale(1,1.06)" text-anchor="middle">70°E</text><text transform="translate(172.7,821.3) scale(1,1.06)" text-anchor="middle">70°E</text><text transform="translate(542.0,135.6) scale(1,1.06)" text-anchor="middle">80°E</text><text transform="translate(542.0,821.3) scale(1,1.06)" text-anchor="middle">80°E</text><text transform="translate(911.3,135.6) scale(1,1.06)" text-anchor="middle">90°E</text><text transform="translate(911.3,821.3) scale(1,1.06)" text-anchor="middle">90°E</text><text transform="translate(1280.7,135.6) scale(1,1.06)" text-anchor="middle">100°E</text><text transform="translate(1280.7,821.3) scale(1,1.06)" text-anchor="middle">100°E</text><text transform="translate(1650.0,135.6) scale(1,1.06)" text-anchor="middle">110°E</text><text transform="translate(1650.0,821.3) scale(1,1.06)" text-anchor="middle">110°E</text><text transform="translate(133.0,199.8) scale(1,1.06)" text-anchor="end">40°N</text><text transform="translate(1686.0,199.8) scale(1,1.06)" text-anchor="start">40°N</text><text transform="translate(133.0,384.5) scale(1,1.06)" text-anchor="end">35°N</text><text transform="translate(1686.0,384.5) scale(1,1.06)" text-anchor="start">35°N</text><text transform="translate(133.0,569.3) scale(1,1.06)" text-anchor="end">30°N</text><text transform="translate(1686.0,569.3) scale(1,1.06)" text-anchor="start">30°N</text><text transform="translate(133.0,754.0) scale(1,1.06)" text-anchor="end">25°N</text><text transform="translate(1686.0,754.0) scale(1,1.06)" text-anchor="start">25°N</text></g>
<rect x="339.1" y="848.0" width="88.4" height="46.5" fill="#86302b"/>
<rect x="427.0" y="848.0" width="88.4" height="46.5" fill="#c0322d"/>
<rect x="514.9" y="848.0" width="88.4" height="46.5" fill="#e85436"/>
<rect x="602.7" y="848.0" width="88.4" height="46.5" fill="#ef883a"/>
<rect x="690.6" y="848.0" width="88.4" height="46.5" fill="#f2ae42"/>
<rect x="778.5" y="848.0" width="88.4" height="46.5" fill="#eee764"/>
<rect x="866.4" y="848.0" width="88.4" height="46.5" fill="#cde6e4"/>
<rect x="954.2" y="848.0" width="88.4" height="46.5" fill="#a1d4dd"/>
<rect x="1042.1" y="848.0" width="88.4" height="46.5" fill="#84c8e6"/>
<rect x="1130.0" y="848.0" width="88.4" height="46.5" fill="#7aa9d6"/>
<rect x="1217.8" y="848.0" width="88.4" height="46.5" fill="#4c5a9e"/>
<rect x="1305.7" y="848.0" width="88.4" height="46.5" fill="#423f88"/>
<line x1="427.0" y1="848.0" x2="427.0" y2="894.5" stroke="#1a1a1a" stroke-width="3"/>
<line x1="514.9" y1="848.0" x2="514.9" y2="894.5" stroke="#1a1a1a" stroke-width="3"/>
<line x1="602.7" y1="848.0" x2="602.7" y2="894.5" stroke="#1a1a1a" stroke-width="3"/>
<line x1="690.6" y1="848.0" x2="690.6" y2="894.5" stroke="#1a1a1a" stroke-width="3"/>
<line x1="778.5" y1="848.0" x2="778.5" y2="894.5" stroke="#1a1a1a" stroke-width="3"/>
<line x1="866.4" y1="848.0" x2="866.4" y2="894.5" stroke="#1a1a1a" stroke-width="3"/>
<line x1="954.2" y1="848.0" x2="954.2" y2="894.5" stroke="#1a1a1a" stroke-width="3"/>
<line x1="1042.1" y1="848.0" x2="1042.1" y2="894.5" stroke="#1a1a1a" stroke-width="3"/>
<line x1="1130.0" y1="848.0" x2="1130.0" y2="894.5" stroke="#1a1a1a" stroke-width="3"/>
<line x1="1217.8" y1="848.0" x2="1217.8" y2="894.5" stroke="#1a1a1a" stroke-width="3"/>
<line x1="1305.7" y1="848.0" x2="1305.7" y2="894.5" stroke="#1a1a1a" stroke-width="3"/>
<rect x="341.85" y="848.0" width="1049.0" height="46.5" fill="none" stroke="#000" stroke-width="5.5"/>
<text transform="translate(514.9,957.6) scale(1,1.06)" text-anchor="middle">-80</text>
<text transform="translate(683.6,957.6) scale(1,1.06)" text-anchor="middle">-40</text>
<text transform="translate(866.4,957.6) scale(1,1.06)" text-anchor="middle">0</text>
<text transform="translate(1042.1,957.6) scale(1,1.06)" text-anchor="middle">40</text>
<text transform="translate(1217.8,957.6) scale(1,1.06)" text-anchor="middle">80</text>
<text x="1421" y="894" class="cjk">降水率</text>
<text transform="translate(1419.0,958.2) scale(1,1.06)" text-anchor="start">/(mm·mon<tspan font-size="33" dy="-19">-1</tspan><tspan dy="19">)</tspan></text>
</g>
</svg>
</body></html>
